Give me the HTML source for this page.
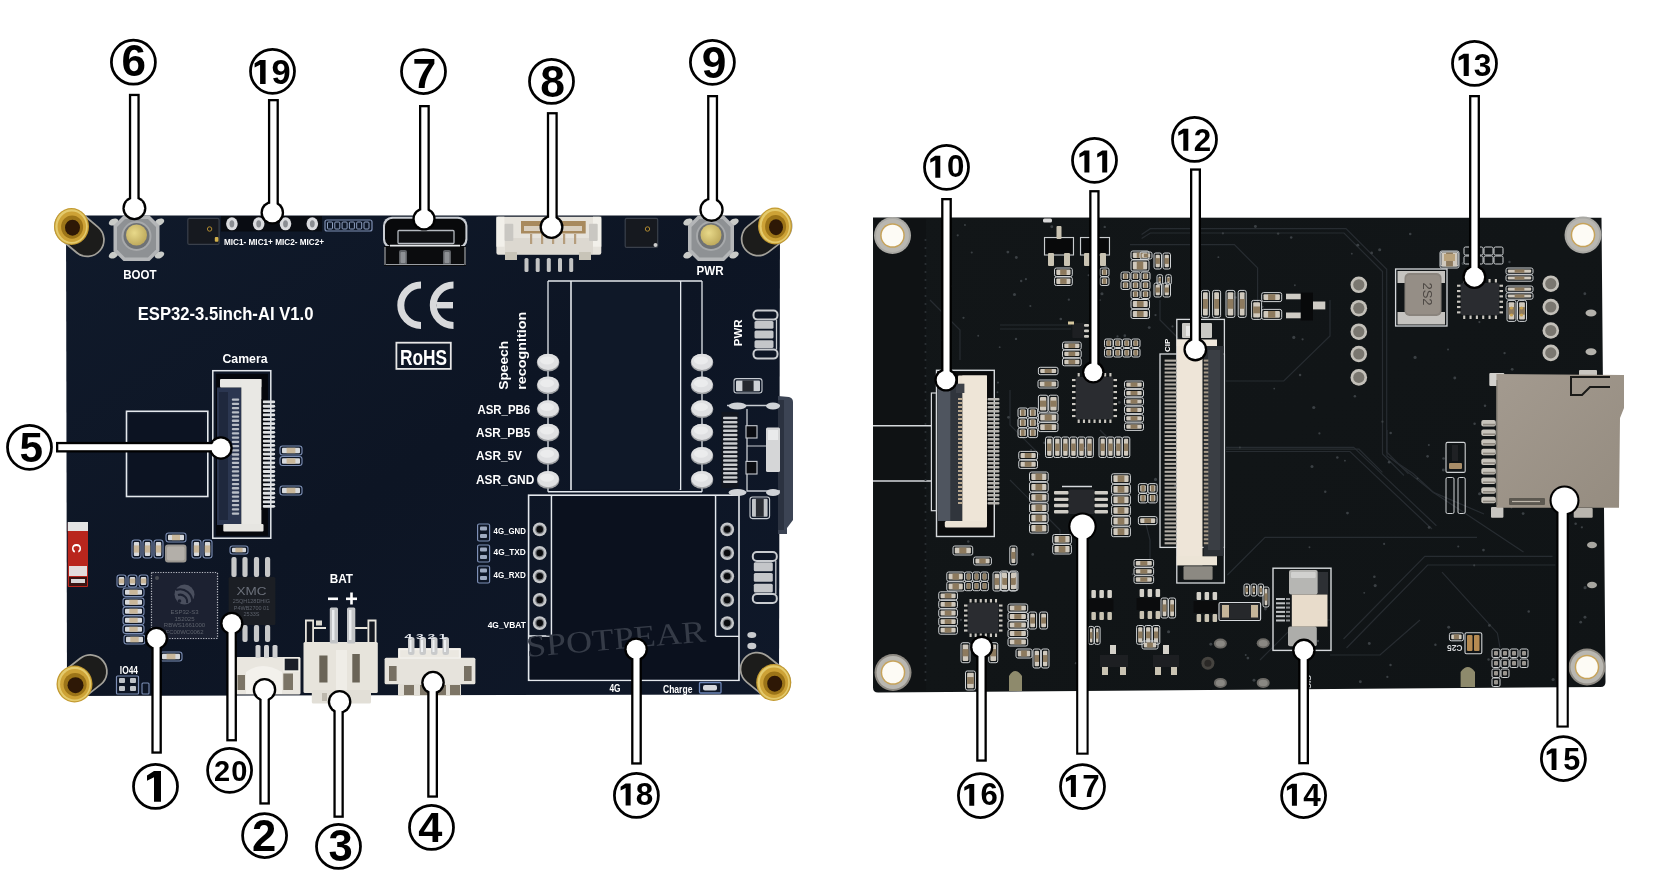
<!DOCTYPE html>
<html><head><meta charset="utf-8"><title>ESP32-3.5inch-AI</title>
<style>html,body{margin:0;padding:0;background:#fff;overflow:hidden}svg{display:block;will-change:transform}</style>
</head><body>
<svg width="1666" height="896" viewBox="0 0 1666 896">
<defs>
<linearGradient id="lbg" x1="0" y1="0" x2="1" y2="1">
<stop offset="0" stop-color="#101a2b"/><stop offset="0.5" stop-color="#0d1524"/><stop offset="1" stop-color="#0f1829"/>
</linearGradient>
<linearGradient id="rbg" x1="0" y1="0" x2="1" y2="1">
<stop offset="0" stop-color="#121618"/><stop offset="1" stop-color="#101416"/>
</linearGradient>
<radialGradient id="brass" cx="0.45" cy="0.45" r="0.6">
<stop offset="0" stop-color="#5a3a10"/><stop offset="0.45" stop-color="#8a6418"/><stop offset="0.7" stop-color="#d9b64a"/><stop offset="1" stop-color="#b08a2a"/>
</radialGradient>
<linearGradient id="cyl" x1="0" y1="0" x2="1" y2="0">
<stop offset="0" stop-color="#2a2a28"/><stop offset="0.5" stop-color="#151514"/><stop offset="1" stop-color="#3a3834"/>
</linearGradient>
<radialGradient id="btncap" cx="0.4" cy="0.4" r="0.7">
<stop offset="0" stop-color="#e8d98a"/><stop offset="1" stop-color="#b9a457"/>
</radialGradient>
<linearGradient id="sdg" x1="0" y1="0" x2="1" y2="1">
<stop offset="0" stop-color="#a39a8f"/><stop offset="1" stop-color="#958c80"/>
</linearGradient>
</defs>
<rect width="1666" height="896" fill="#fff"/>
<polygon points="66,215.5 780,215.5 779,694.5 67,696" fill="url(#lbg)"/>
<path d="M778,396 L789,397 Q793,398 793,402 L793,520 L787,528 L787,534 L778,534 Z" fill="#3c4454"/>
<rect x="778" y="400" width="6" height="130" fill="#2b3240"/>
<rect x="126.5" y="411.3" width="81.3" height="85.2" fill="none" stroke="#e4e8ed" stroke-width="1.6"/>
<rect x="129" y="414" width="76" height="80" fill="#0c1322"/>
<line x1="548" y1="281" x2="702" y2="281" stroke="#e4e8ed" stroke-width="1.6"/>
<line x1="548" y1="281" x2="548" y2="491.7" stroke="#e4e8ed" stroke-width="1.3"/>
<line x1="702" y1="281" x2="702" y2="491.7" stroke="#e4e8ed" stroke-width="1.3"/>
<line x1="571" y1="281" x2="571" y2="490" stroke="#e4e8ed" stroke-width="1.6"/>
<line x1="680.5" y1="281" x2="680.5" y2="490" stroke="#e4e8ed" stroke-width="1.6"/>
<line x1="548" y1="491.7" x2="702" y2="491.7" stroke="#e4e8ed" stroke-width="1.6"/>
<rect x="572" y="282" width="108" height="207" fill="#0f1828"/>
<rect x="528.6" y="495.2" width="210.4" height="185.1" fill="none" stroke="#e4e8ed" stroke-width="1.6"/>
<line x1="551.5" y1="495.2" x2="551.5" y2="636" stroke="#e4e8ed" stroke-width="1.6"/>
<line x1="528.6" y1="636" x2="551.5" y2="636" stroke="#e4e8ed" stroke-width="1.6"/>
<line x1="715.5" y1="495.2" x2="715.5" y2="636" stroke="#e4e8ed" stroke-width="1.6"/>
<line x1="715.5" y1="636.5" x2="739" y2="636.5" stroke="#e4e8ed" stroke-width="1.6"/>
<rect x="552.5" y="496.5" width="162" height="182.5" fill="#0b111e"/>
<rect x="530" y="637" width="208" height="42.5" fill="#0b111e"/>
<line x1="71.5" y1="226.5" x2="87.31" y2="239.83" stroke="#a3a19a" stroke-width="35" stroke-linecap="round"/>
<line x1="71.5" y1="226.5" x2="87.31" y2="239.83" stroke="#1c1c1b" stroke-width="31.5" stroke-linecap="round"/>
<ellipse cx="71.5" cy="226.5" rx="17.5" ry="18.5" fill="#c39a30"/>
<ellipse cx="71.5" cy="226.5" rx="16.2" ry="17.2" fill="#e4ca6c"/>
<ellipse cx="71.8" cy="226.8" rx="14.2" ry="15.2" fill="#cda236"/>
<ellipse cx="72.1" cy="227.1" rx="11" ry="11.7" fill="#9c7418"/>
<ellipse cx="72.5" cy="227.7" rx="7.5" ry="8" fill="#2e1806"/>
<line x1="775" y1="226" x2="758.26" y2="239.02" stroke="#a3a19a" stroke-width="35" stroke-linecap="round"/>
<line x1="775" y1="226" x2="758.26" y2="239.02" stroke="#1c1c1b" stroke-width="31.5" stroke-linecap="round"/>
<ellipse cx="775" cy="226" rx="17" ry="18.5" fill="#c39a30"/>
<ellipse cx="775" cy="226" rx="15.7" ry="17.2" fill="#e4ca6c"/>
<ellipse cx="775.3" cy="226.3" rx="13.7" ry="15.2" fill="#cda236"/>
<ellipse cx="775.6" cy="226.6" rx="10.5" ry="11.7" fill="#9c7418"/>
<ellipse cx="776" cy="227.2" rx="7" ry="8" fill="#2e1806"/>
<line x1="74.5" y1="684" x2="90.31" y2="671.6" stroke="#a3a19a" stroke-width="35" stroke-linecap="round"/>
<line x1="74.5" y1="684" x2="90.31" y2="671.6" stroke="#1c1c1b" stroke-width="31.5" stroke-linecap="round"/>
<ellipse cx="74.5" cy="684" rx="18" ry="18.5" fill="#c39a30"/>
<ellipse cx="74.5" cy="684" rx="16.7" ry="17.2" fill="#e4ca6c"/>
<ellipse cx="74.8" cy="684.3" rx="14.7" ry="15.2" fill="#cda236"/>
<ellipse cx="75.1" cy="684.6" rx="11.5" ry="11.7" fill="#9c7418"/>
<ellipse cx="75.5" cy="685.2" rx="8" ry="8" fill="#2e1806"/>
<line x1="773.7" y1="682.5" x2="757.15" y2="669.17" stroke="#a3a19a" stroke-width="35" stroke-linecap="round"/>
<line x1="773.7" y1="682.5" x2="757.15" y2="669.17" stroke="#1c1c1b" stroke-width="31.5" stroke-linecap="round"/>
<ellipse cx="773.7" cy="682.5" rx="17.5" ry="18.5" fill="#c39a30"/>
<ellipse cx="773.7" cy="682.5" rx="16.2" ry="17.2" fill="#e4ca6c"/>
<ellipse cx="774" cy="682.8" rx="14.2" ry="15.2" fill="#cda236"/>
<ellipse cx="774.3" cy="683.1" rx="11" ry="11.7" fill="#9c7418"/>
<ellipse cx="774.7" cy="683.7" rx="7.5" ry="8" fill="#2e1806"/>
<ellipse cx="113.5" cy="222" rx="5" ry="3.2" fill="#c9cbc8" transform="rotate(-25 113.5 222)"/>
<ellipse cx="159.5" cy="222" rx="5" ry="3.2" fill="#c9cbc8" transform="rotate(-25 159.5 222)"/>
<ellipse cx="113.5" cy="255" rx="5" ry="3.2" fill="#c9cbc8" transform="rotate(-25 113.5 255)"/>
<ellipse cx="159.5" cy="255" rx="5" ry="3.2" fill="#c9cbc8" transform="rotate(-25 159.5 255)"/>
<polygon points="123.5,215.5 149.5,215.5 159.5,225.5 159.5,251 149.5,261 123.5,261 113.5,251 113.5,225.5" fill="#b4b6b8"/>
<polygon points="125,219 148,219 156,227 156,249.5 148,257.5 125,257.5 117,249.5 117,227" fill="#8e9194"/>
<circle cx="136.5" cy="236" r="15" fill="#a7a9ab"/>
<circle cx="136.5" cy="236" r="13" fill="#6f7275"/>
<circle cx="136.5" cy="235" r="10.5" fill="url(#btncap)"/>
<ellipse cx="688" cy="222" rx="5" ry="3.2" fill="#c9cbc8" transform="rotate(-25 688 222)"/>
<ellipse cx="734" cy="222" rx="5" ry="3.2" fill="#c9cbc8" transform="rotate(-25 734 222)"/>
<ellipse cx="688" cy="255" rx="5" ry="3.2" fill="#c9cbc8" transform="rotate(-25 688 255)"/>
<ellipse cx="734" cy="255" rx="5" ry="3.2" fill="#c9cbc8" transform="rotate(-25 734 255)"/>
<polygon points="698,215.5 724,215.5 734,225.5 734,251 724,261 698,261 688,251 688,225.5" fill="#b4b6b8"/>
<polygon points="699.5,219 722.5,219 730.5,227 730.5,249.5 722.5,257.5 699.5,257.5 691.5,249.5 691.5,227" fill="#8e9194"/>
<circle cx="711" cy="236" r="15" fill="#a7a9ab"/>
<circle cx="711" cy="236" r="13" fill="#6f7275"/>
<circle cx="711" cy="235" r="10.5" fill="url(#btncap)"/>
<text x="123.2" y="278.6" font-family="Liberation Sans" font-weight="bold" font-size="13.2" fill="#fff" text-anchor="start" textLength="33.3" lengthAdjust="spacingAndGlyphs">BOOT</text>
<text x="696.6" y="275.4" font-family="Liberation Sans" font-weight="bold" font-size="12.6" fill="#fff" text-anchor="start" textLength="27" lengthAdjust="spacingAndGlyphs">PWR</text>
<rect x="187.8" y="218.4" width="31.3" height="26" fill="#16191f" stroke="#3a404b" stroke-width="1.2" rx="1.5"/>
<rect x="214.8" y="237" width="3.6" height="4.8" fill="#d2b04a" rx="1"/>
<circle cx="209.6" cy="229" r="2.2" fill="none" stroke="#b08a30" stroke-width="1"/>
<rect x="625.2" y="218.4" width="32.5" height="29" fill="#16191f" stroke="#3a404b" stroke-width="1.2" rx="1.5"/>
<circle cx="647.5" cy="229" r="2.2" fill="none" stroke="#b08a30" stroke-width="1"/>
<circle cx="655.5" cy="245" r="2" fill="#ccc"/>
<rect x="221" y="216" width="101" height="15.5" fill="#090c12"/>
<ellipse cx="231.9" cy="223.8" rx="5.8" ry="6.5" fill="#dadbde"/>
<ellipse cx="231.9" cy="223.8" rx="2.4" ry="3.6" fill="#8a8d92"/>
<ellipse cx="258.7" cy="223.8" rx="5.8" ry="6.5" fill="#dadbde"/>
<ellipse cx="258.7" cy="223.8" rx="2.4" ry="3.6" fill="#8a8d92"/>
<ellipse cx="285.5" cy="223.8" rx="5.8" ry="6.5" fill="#dadbde"/>
<ellipse cx="285.5" cy="223.8" rx="2.4" ry="3.6" fill="#8a8d92"/>
<ellipse cx="312.3" cy="223.8" rx="5.8" ry="6.5" fill="#dadbde"/>
<ellipse cx="312.3" cy="223.8" rx="2.4" ry="3.6" fill="#8a8d92"/>
<text x="224" y="245.3" font-family="Liberation Sans" font-weight="bold" font-size="9.6" fill="#fff" text-anchor="start" textLength="100" lengthAdjust="spacingAndGlyphs">MIC1- MIC1+ MIC2- MIC2+</text>
<rect x="325" y="220" width="47" height="11" fill="none" stroke="#7f90b4" stroke-width="1.2" rx="2"/>
<rect x="327.5" y="222" width="5" height="7" fill="none" stroke="#8fa0c0" stroke-width="1" rx="1"/>
<rect x="334.8" y="222" width="5" height="7" fill="none" stroke="#8fa0c0" stroke-width="1" rx="1"/>
<rect x="342.1" y="222" width="5" height="7" fill="none" stroke="#8fa0c0" stroke-width="1" rx="1"/>
<rect x="349.4" y="222" width="5" height="7" fill="none" stroke="#8fa0c0" stroke-width="1" rx="1"/>
<rect x="356.7" y="222" width="5" height="7" fill="none" stroke="#8fa0c0" stroke-width="1" rx="1"/>
<rect x="364" y="222" width="5" height="7" fill="none" stroke="#8fa0c0" stroke-width="1" rx="1"/>
<rect x="383" y="216.7" width="84.4" height="32" fill="#c9cdd3" rx="9"/>
<rect x="385" y="218.7" width="80.4" height="28" fill="#08090b" rx="8"/>
<rect x="398" y="230.5" width="56" height="13" fill="#0e0f12" stroke="#b5b9bf" stroke-width="1.3" rx="1"/>
<rect x="384" y="246" width="82" height="20" fill="#0b0c0e"/>
<line x1="385" y1="247" x2="385" y2="265" stroke="#9fa3a8" stroke-width="1.2"/>
<line x1="465" y1="247" x2="465" y2="265" stroke="#9fa3a8" stroke-width="1.2"/>
<rect x="399" y="250" width="8" height="15" fill="#5e6165" rx="2"/>
<rect x="400.5" y="252" width="5" height="11" fill="#8d9094" rx="1"/>
<rect x="443" y="250" width="8" height="15" fill="#5e6165" rx="2"/>
<rect x="444.5" y="252" width="5" height="11" fill="#8d9094" rx="1"/>
<line x1="386" y1="264.5" x2="464" y2="264.5" stroke="#9a9ea3" stroke-width="1.2"/>
<line x1="390" y1="245.6" x2="460" y2="245.6" stroke="#e8eaec" stroke-width="1.6"/>
<rect x="496.4" y="216.7" width="104.9" height="38" fill="#e6e3dc" rx="2"/>
<rect x="496.4" y="216.7" width="8" height="30" fill="#f2f0ea"/>
<rect x="593" y="216.7" width="8.3" height="30" fill="#f2f0ea"/>
<rect x="521" y="221" width="64.7" height="12.5" fill="#a88a5e"/>
<rect x="524" y="226" width="58" height="5" fill="#d9cfbf"/>
<rect x="505" y="238" width="88" height="16" fill="#dcd8d0"/>
<rect x="524.5" y="258" width="4" height="14" fill="#c3c4c4" rx="1.5"/>
<rect x="535.7" y="258" width="4" height="14" fill="#c3c4c4" rx="1.5"/>
<rect x="546.8" y="258" width="4" height="14" fill="#c3c4c4" rx="1.5"/>
<rect x="558" y="258" width="4" height="14" fill="#c3c4c4" rx="1.5"/>
<rect x="569.2" y="258" width="4" height="14" fill="#c3c4c4" rx="1.5"/>
<rect x="505" y="252" width="12" height="8" fill="#c8c4b8"/>
<rect x="579" y="252" width="12" height="8" fill="#c8c4b8"/>
<rect x="504.6" y="223.7" width="8.7" height="17.3" fill="#c9c7c2" rx="1"/>
<rect x="589" y="223.7" width="8.7" height="17.3" fill="#c9c7c2" rx="1"/>
<rect x="530" y="234" width="2.2" height="10" fill="#b59d7c"/>
<rect x="541" y="234" width="2.2" height="10" fill="#b59d7c"/>
<rect x="552" y="234" width="2.2" height="10" fill="#b59d7c"/>
<rect x="563" y="234" width="2.2" height="10" fill="#b59d7c"/>
<rect x="574" y="234" width="2.2" height="10" fill="#b59d7c"/>
<text x="137.7" y="320.1" font-family="Liberation Sans" font-weight="bold" font-size="18.6" fill="#fff" text-anchor="start" textLength="175.7" lengthAdjust="spacingAndGlyphs">ESP32-3.5inch-AI V1.0</text>
<path d="M421,285 A20.2,20.2 0 0 0 421,325.4" fill="none" stroke="#d8d9db" stroke-width="7"/>
<path d="M453.5,285 A20.2,20.2 0 0 0 453.5,325.4" fill="none" stroke="#d8d9db" stroke-width="7"/>
<rect x="437" y="302" width="16" height="6.4" fill="#d8d9db"/>
<rect x="396.4" y="342.7" width="54.4" height="26.2" fill="none" stroke="#e6e6e6" stroke-width="1.8"/>
<text x="400" y="365" font-family="Liberation Sans" font-weight="bold" font-size="22" fill="#fff" text-anchor="start" textLength="47" lengthAdjust="spacingAndGlyphs">RoHS</text>
<text x="222.5" y="363.4" font-family="Liberation Sans" font-weight="bold" font-size="13.1" fill="#fff" text-anchor="start" textLength="45" lengthAdjust="spacingAndGlyphs">Camera</text>
<rect x="212.8" y="370.7" width="58" height="167.5" fill="none" stroke="#e4e8ed" stroke-width="1.5"/>
<rect x="215.9" y="373.8" width="52" height="162" fill="#05070c"/>
<rect x="217" y="387.5" width="24.3" height="137.5" fill="#2b3650"/>
<rect x="219" y="392" width="9" height="128" fill="#1f283d"/>
<rect x="220" y="379" width="41.4" height="8.5" fill="#e8e7e3" rx="1"/>
<rect x="241.3" y="379" width="20.1" height="152" fill="#e9e8e4"/>
<rect x="223.3" y="524" width="40.2" height="7.6" fill="#e6e5e1" rx="1"/>
<rect x="231.8" y="398.5" width="7.4" height="2.3" fill="#b9bec6" rx="1"/>
<rect x="231.8" y="402.72" width="7.4" height="2.3" fill="#b9bec6" rx="1"/>
<rect x="231.8" y="406.94" width="7.4" height="2.3" fill="#b9bec6" rx="1"/>
<rect x="231.8" y="411.16" width="7.4" height="2.3" fill="#b9bec6" rx="1"/>
<rect x="231.8" y="415.38" width="7.4" height="2.3" fill="#b9bec6" rx="1"/>
<rect x="231.8" y="419.6" width="7.4" height="2.3" fill="#b9bec6" rx="1"/>
<rect x="231.8" y="423.82" width="7.4" height="2.3" fill="#b9bec6" rx="1"/>
<rect x="231.8" y="428.04" width="7.4" height="2.3" fill="#b9bec6" rx="1"/>
<rect x="231.8" y="432.26" width="7.4" height="2.3" fill="#b9bec6" rx="1"/>
<rect x="231.8" y="436.48" width="7.4" height="2.3" fill="#b9bec6" rx="1"/>
<rect x="231.8" y="440.7" width="7.4" height="2.3" fill="#b9bec6" rx="1"/>
<rect x="231.8" y="444.92" width="7.4" height="2.3" fill="#b9bec6" rx="1"/>
<rect x="231.8" y="449.14" width="7.4" height="2.3" fill="#b9bec6" rx="1"/>
<rect x="231.8" y="453.36" width="7.4" height="2.3" fill="#b9bec6" rx="1"/>
<rect x="231.8" y="457.58" width="7.4" height="2.3" fill="#b9bec6" rx="1"/>
<rect x="231.8" y="461.8" width="7.4" height="2.3" fill="#b9bec6" rx="1"/>
<rect x="231.8" y="466.02" width="7.4" height="2.3" fill="#b9bec6" rx="1"/>
<rect x="231.8" y="470.24" width="7.4" height="2.3" fill="#b9bec6" rx="1"/>
<rect x="231.8" y="474.46" width="7.4" height="2.3" fill="#b9bec6" rx="1"/>
<rect x="231.8" y="478.68" width="7.4" height="2.3" fill="#b9bec6" rx="1"/>
<rect x="231.8" y="482.9" width="7.4" height="2.3" fill="#b9bec6" rx="1"/>
<rect x="231.8" y="487.12" width="7.4" height="2.3" fill="#b9bec6" rx="1"/>
<rect x="231.8" y="491.34" width="7.4" height="2.3" fill="#b9bec6" rx="1"/>
<rect x="231.8" y="495.56" width="7.4" height="2.3" fill="#b9bec6" rx="1"/>
<rect x="231.8" y="499.78" width="7.4" height="2.3" fill="#b9bec6" rx="1"/>
<rect x="231.8" y="504" width="7.4" height="2.3" fill="#b9bec6" rx="1"/>
<rect x="231.8" y="508.22" width="7.4" height="2.3" fill="#b9bec6" rx="1"/>
<rect x="231.8" y="512.44" width="7.4" height="2.3" fill="#b9bec6" rx="1"/>
<rect x="262.5" y="400.5" width="12.7" height="2.8" fill="#dfe1e3" rx="1.4"/>
<rect x="262.5" y="404.85" width="12.7" height="2.8" fill="#dfe1e3" rx="1.4"/>
<rect x="262.5" y="409.2" width="12.7" height="2.8" fill="#dfe1e3" rx="1.4"/>
<rect x="262.5" y="413.55" width="12.7" height="2.8" fill="#dfe1e3" rx="1.4"/>
<rect x="262.5" y="417.9" width="12.7" height="2.8" fill="#dfe1e3" rx="1.4"/>
<rect x="262.5" y="422.25" width="12.7" height="2.8" fill="#dfe1e3" rx="1.4"/>
<rect x="262.5" y="426.6" width="12.7" height="2.8" fill="#dfe1e3" rx="1.4"/>
<rect x="262.5" y="430.95" width="12.7" height="2.8" fill="#dfe1e3" rx="1.4"/>
<rect x="262.5" y="435.3" width="12.7" height="2.8" fill="#dfe1e3" rx="1.4"/>
<rect x="262.5" y="439.65" width="12.7" height="2.8" fill="#dfe1e3" rx="1.4"/>
<rect x="262.5" y="444" width="12.7" height="2.8" fill="#dfe1e3" rx="1.4"/>
<rect x="262.5" y="448.35" width="12.7" height="2.8" fill="#dfe1e3" rx="1.4"/>
<rect x="262.5" y="452.7" width="12.7" height="2.8" fill="#dfe1e3" rx="1.4"/>
<rect x="262.5" y="457.05" width="12.7" height="2.8" fill="#dfe1e3" rx="1.4"/>
<rect x="262.5" y="461.4" width="12.7" height="2.8" fill="#dfe1e3" rx="1.4"/>
<rect x="262.5" y="465.75" width="12.7" height="2.8" fill="#dfe1e3" rx="1.4"/>
<rect x="262.5" y="470.1" width="12.7" height="2.8" fill="#dfe1e3" rx="1.4"/>
<rect x="262.5" y="474.45" width="12.7" height="2.8" fill="#dfe1e3" rx="1.4"/>
<rect x="262.5" y="478.8" width="12.7" height="2.8" fill="#dfe1e3" rx="1.4"/>
<rect x="262.5" y="483.15" width="12.7" height="2.8" fill="#dfe1e3" rx="1.4"/>
<rect x="262.5" y="487.5" width="12.7" height="2.8" fill="#dfe1e3" rx="1.4"/>
<rect x="262.5" y="491.85" width="12.7" height="2.8" fill="#dfe1e3" rx="1.4"/>
<rect x="262.5" y="496.2" width="12.7" height="2.8" fill="#dfe1e3" rx="1.4"/>
<rect x="262.5" y="500.55" width="12.7" height="2.8" fill="#dfe1e3" rx="1.4"/>
<rect x="262.5" y="504.9" width="12.7" height="2.8" fill="#dfe1e3" rx="1.4"/>
<rect x="261.6" y="399" width="1.2" height="111" fill="#05070c"/>
<rect x="280" y="446" width="22" height="9" fill="none" stroke="#7d8fb5" stroke-width="1.1" rx="2.5"/>
<rect x="282" y="447.8" width="18" height="5.4" fill="#d7d9dc" rx="1"/>
<rect x="286.6" y="447.8" width="8.8" height="5.4" fill="#c9b79a"/>
<rect x="280" y="456.5" width="22" height="9" fill="none" stroke="#7d8fb5" stroke-width="1.1" rx="2.5"/>
<rect x="282" y="458.3" width="18" height="5.4" fill="#d7d9dc" rx="1"/>
<rect x="286.6" y="458.3" width="8.8" height="5.4" fill="#c9b79a"/>
<rect x="280" y="486" width="22" height="9" fill="none" stroke="#7d8fb5" stroke-width="1.1" rx="2.5"/>
<rect x="282" y="487.8" width="18" height="5.4" fill="#d7d9dc" rx="1"/>
<rect x="286.6" y="487.8" width="8.8" height="5.4" fill="#c9b79a"/>
<rect x="67.8" y="522" width="20.2" height="65" fill="#b9261d" rx="1"/>
<rect x="67.8" y="522" width="20.2" height="9" fill="#e4e4e4"/>
<text x="71.5" y="556" font-family="Liberation Sans" font-weight="bold" font-size="13" fill="#fff" text-anchor="start" transform="rotate(90 78 550)">C</text>
<rect x="69" y="566" width="18" height="10" fill="#e3dcdc"/>
<rect x="69" y="577" width="18" height="9" fill="#3a1412"/>
<rect x="71" y="579" width="14" height="4" fill="#d8d8d8"/>
<rect x="132" y="540" width="9" height="18" fill="none" stroke="#7d8fb5" stroke-width="1.1" rx="2.5"/>
<rect x="133.8" y="542" width="5.4" height="14" fill="#d7d9dc" rx="1"/>
<rect x="133.8" y="545.4" width="5.4" height="7.2" fill="#c9b79a"/>
<rect x="143" y="540" width="9" height="18" fill="none" stroke="#7d8fb5" stroke-width="1.1" rx="2.5"/>
<rect x="144.8" y="542" width="5.4" height="14" fill="#d7d9dc" rx="1"/>
<rect x="144.8" y="545.4" width="5.4" height="7.2" fill="#c9b79a"/>
<rect x="154" y="540" width="9" height="18" fill="none" stroke="#7d8fb5" stroke-width="1.1" rx="2.5"/>
<rect x="155.8" y="542" width="5.4" height="14" fill="#d7d9dc" rx="1"/>
<rect x="155.8" y="545.4" width="5.4" height="7.2" fill="#c9b79a"/>
<rect x="192" y="540" width="9" height="18" fill="none" stroke="#7d8fb5" stroke-width="1.1" rx="2.5"/>
<rect x="193.8" y="542" width="5.4" height="14" fill="#d7d9dc" rx="1"/>
<rect x="193.8" y="545.4" width="5.4" height="7.2" fill="#c9b79a"/>
<rect x="203" y="540" width="9" height="18" fill="none" stroke="#7d8fb5" stroke-width="1.1" rx="2.5"/>
<rect x="204.8" y="542" width="5.4" height="14" fill="#d7d9dc" rx="1"/>
<rect x="204.8" y="545.4" width="5.4" height="7.2" fill="#c9b79a"/>
<rect x="166" y="533" width="20" height="9" fill="none" stroke="#7d8fb5" stroke-width="1.1" rx="2.5"/>
<rect x="168" y="534.8" width="16" height="5.4" fill="#d7d9dc" rx="1"/>
<rect x="172" y="534.8" width="8" height="5.4" fill="#c9b79a"/>
<rect x="165" y="544.6" width="21.5" height="17.8" fill="#9c9892" rx="3"/>
<rect x="167" y="546.5" width="17.5" height="14" fill="#b3afa9" rx="2"/>
<rect x="123" y="588" width="21" height="8.5" fill="none" stroke="#7d8fb5" stroke-width="1.1" rx="2.5"/>
<rect x="125" y="589.8" width="17" height="4.9" fill="#d7d9dc" rx="1"/>
<rect x="129.3" y="589.8" width="8.4" height="4.9" fill="#c9b79a"/>
<rect x="123" y="598" width="21" height="8.5" fill="none" stroke="#7d8fb5" stroke-width="1.1" rx="2.5"/>
<rect x="125" y="599.8" width="17" height="4.9" fill="#d7d9dc" rx="1"/>
<rect x="129.3" y="599.8" width="8.4" height="4.9" fill="#c9b79a"/>
<rect x="123" y="607" width="21" height="8.5" fill="none" stroke="#7d8fb5" stroke-width="1.1" rx="2.5"/>
<rect x="125" y="608.8" width="17" height="4.9" fill="#d7d9dc" rx="1"/>
<rect x="129.3" y="608.8" width="8.4" height="4.9" fill="#c9b79a"/>
<rect x="123" y="616" width="21" height="8.5" fill="none" stroke="#7d8fb5" stroke-width="1.1" rx="2.5"/>
<rect x="125" y="617.8" width="17" height="4.9" fill="#d7d9dc" rx="1"/>
<rect x="129.3" y="617.8" width="8.4" height="4.9" fill="#c9b79a"/>
<rect x="123" y="625" width="21" height="8.5" fill="none" stroke="#7d8fb5" stroke-width="1.1" rx="2.5"/>
<rect x="125" y="626.8" width="17" height="4.9" fill="#d7d9dc" rx="1"/>
<rect x="129.3" y="626.8" width="8.4" height="4.9" fill="#c9b79a"/>
<rect x="117" y="575" width="9" height="12" fill="none" stroke="#7d8fb5" stroke-width="1.1" rx="2.5"/>
<rect x="118.8" y="577" width="5.4" height="8" fill="#d7d9dc" rx="1"/>
<rect x="118.8" y="578.6" width="5.4" height="4.8" fill="#c9b79a"/>
<rect x="128" y="575" width="9" height="12" fill="none" stroke="#7d8fb5" stroke-width="1.1" rx="2.5"/>
<rect x="129.8" y="577" width="5.4" height="8" fill="#d7d9dc" rx="1"/>
<rect x="129.8" y="578.6" width="5.4" height="4.8" fill="#c9b79a"/>
<rect x="139" y="575" width="9" height="12" fill="none" stroke="#7d8fb5" stroke-width="1.1" rx="2.5"/>
<rect x="140.8" y="577" width="5.4" height="8" fill="#d7d9dc" rx="1"/>
<rect x="140.8" y="578.6" width="5.4" height="4.8" fill="#c9b79a"/>
<rect x="124" y="635" width="21" height="9" fill="none" stroke="#7d8fb5" stroke-width="1.1" rx="2.5"/>
<rect x="126" y="636.8" width="17" height="5.4" fill="#d7d9dc" rx="1"/>
<rect x="130.3" y="636.8" width="8.4" height="5.4" fill="#c9b79a"/>
<rect x="160" y="652" width="22" height="9" fill="none" stroke="#7d8fb5" stroke-width="1.1" rx="2.5"/>
<rect x="162" y="653.8" width="18" height="5.4" fill="#d7d9dc" rx="1"/>
<rect x="166.6" y="653.8" width="8.8" height="5.4" fill="#c9b79a"/>
<rect x="230" y="546" width="18" height="8" fill="none" stroke="#7d8fb5" stroke-width="1.1" rx="2.5"/>
<rect x="232" y="547.8" width="14" height="4.4" fill="#d7d9dc" rx="1"/>
<rect x="235.4" y="547.8" width="7.2" height="4.4" fill="#c9b79a"/>
<rect x="150.4" y="571.4" width="68.1" height="68" fill="#1c2131" rx="2"/>
<rect x="151.5" y="572.5" width="66" height="66" fill="none" stroke="#b9bdc4" stroke-width="1.2" rx="1" stroke-dasharray="1.2 1.4"/>
<circle cx="157" cy="578" r="2" fill="#4a4d54"/>
<circle cx="184.5" cy="594.5" r="10" fill="#4a4f5e"/>
<path d="M176,590 a12,12 0 0 1 16,13" fill="none" stroke="#1c2131" stroke-width="2"/>
<path d="M178,595 a7,7 0 0 1 9,8" fill="none" stroke="#1c2131" stroke-width="2"/>
<circle cx="179.5" cy="601" r="1.8" fill="#1c2131"/>
<text x="184.5" y="614" font-family="Liberation Sans" font-weight="normal" font-size="6" fill="#5d626c" text-anchor="middle">ESP32-S3</text>
<text x="184.5" y="620.6" font-family="Liberation Sans" font-weight="normal" font-size="6" fill="#5d626c" text-anchor="middle">152025</text>
<text x="184.5" y="627.2" font-family="Liberation Sans" font-weight="normal" font-size="6" fill="#5d626c" text-anchor="middle">RBWS1661000</text>
<text x="184.5" y="633.8" font-family="Liberation Sans" font-weight="normal" font-size="6" fill="#5d626c" text-anchor="middle">FC00WC0062</text>
<rect x="231.4" y="557" width="5.2" height="20" fill="#c7c8c9" rx="2"/>
<rect x="231.4" y="625" width="5.2" height="17" fill="#c7c8c9" rx="2"/>
<rect x="242.4" y="557" width="5.2" height="20" fill="#c7c8c9" rx="2"/>
<rect x="242.4" y="625" width="5.2" height="17" fill="#c7c8c9" rx="2"/>
<rect x="253.9" y="557" width="5.2" height="20" fill="#c7c8c9" rx="2"/>
<rect x="253.9" y="625" width="5.2" height="17" fill="#c7c8c9" rx="2"/>
<rect x="265" y="557" width="5.2" height="20" fill="#c7c8c9" rx="2"/>
<rect x="265" y="625" width="5.2" height="17" fill="#c7c8c9" rx="2"/>
<rect x="228.6" y="577" width="46.8" height="48" fill="#1b1e24" rx="1.5"/>
<text x="251.5" y="595" font-family="Liberation Sans" font-weight="normal" font-size="11" fill="#6b707a" text-anchor="middle" textLength="30" lengthAdjust="spacingAndGlyphs">XMC</text>
<text x="251.5" y="603" font-family="Liberation Sans" font-weight="normal" font-size="5.5" fill="#5d626c" text-anchor="middle">25QH128DHIG</text>
<text x="251.5" y="609.5" font-family="Liberation Sans" font-weight="normal" font-size="5.5" fill="#5d626c" text-anchor="middle">P4WB2700 01</text>
<text x="251.5" y="616" font-family="Liberation Sans" font-weight="normal" font-size="5.5" fill="#5d626c" text-anchor="middle">2533S</text>
<text x="119.8" y="673.5" font-family="Liberation Sans" font-weight="bold" font-size="10" fill="#fff" text-anchor="start" textLength="18.2" lengthAdjust="spacingAndGlyphs">IO44</text>
<rect x="116.5" y="676" width="22" height="18" fill="none" stroke="#7d8fb5" stroke-width="1.2" rx="1"/>
<rect x="119" y="678" width="6" height="5" fill="#bfc3c8" rx="1"/>
<rect x="130" y="678" width="6" height="5" fill="#bfc3c8" rx="1"/>
<rect x="119" y="686" width="6" height="5" fill="#bfc3c8" rx="1"/>
<rect x="130" y="686" width="6" height="5" fill="#bfc3c8" rx="1"/>
<rect x="142" y="683" width="7" height="11" fill="none" stroke="#7d8fb5" stroke-width="1.1" rx="1"/>
<rect x="236" y="657" width="64.5" height="37.5" fill="#e9e6df" rx="1.5"/>
<path d="M246,672 Q262,660 282,672 L282,694 L246,694 Z" fill="#f3f1ec"/>
<rect x="237.5" y="675" width="7.5" height="15" fill="#7b7466"/>
<rect x="283.3" y="673.5" width="9.7" height="16.5" fill="#7b7466"/>
<rect x="284" y="658" width="15" height="13" fill="#1a1e27" stroke="#f1efe9" stroke-width="1.4"/>
<rect x="255.5" y="645" width="5" height="13" fill="#cfd0d1" rx="1.5"/>
<rect x="264" y="645" width="5" height="13" fill="#cfd0d1" rx="1.5"/>
<rect x="272.5" y="645" width="5" height="13" fill="#cfd0d1" rx="1.5"/>
<rect x="305" y="619.5" width="9" height="24" fill="#e7e4dc"/>
<rect x="306.8" y="621.5" width="5.4" height="22" fill="#141821"/>
<rect x="367.5" y="619.5" width="9" height="24" fill="#e7e4dc"/>
<rect x="369.3" y="621.5" width="5.4" height="22" fill="#141821"/>
<rect x="314" y="627" width="12" height="2" fill="#e7e4dc"/>
<rect x="355" y="627" width="12.5" height="2" fill="#e7e4dc"/>
<rect x="316" y="620.5" width="6" height="5" fill="#d9d6ce"/>
<rect x="303.5" y="642" width="74.3" height="51" fill="#e7e4dc" rx="1.5"/>
<rect x="311.8" y="690" width="59.2" height="13.5" fill="#e2dfd7" rx="1.5"/>
<rect x="319.3" y="655.5" width="8.2" height="27" fill="#6a6457"/>
<rect x="352.3" y="654" width="7.5" height="28.5" fill="#6a6457"/>
<rect x="336" y="650" width="11" height="40" fill="#efede7"/>
<rect x="322" y="693" width="5" height="8" fill="#bdb8ad"/>
<rect x="329.8" y="607.5" width="8.2" height="36" fill="#c3c5c7" rx="1.5"/>
<rect x="347" y="607.5" width="8.3" height="36" fill="#c3c5c7" rx="1.5"/>
<rect x="332" y="610" width="2.5" height="30" fill="#eceef0"/>
<rect x="349" y="610" width="2.5" height="30" fill="#eceef0"/>
<text x="329.7" y="583.2" font-family="Liberation Sans" font-weight="bold" font-size="13" fill="#fff" text-anchor="start" textLength="23.3" lengthAdjust="spacingAndGlyphs">BAT</text>
<rect x="328" y="597.5" width="10" height="2.6" fill="#fff"/>
<rect x="346" y="597.5" width="11" height="2.6" fill="#fff"/>
<rect x="350.2" y="592.5" width="2.6" height="12" fill="#fff"/>
<rect x="384.6" y="657.7" width="90.8" height="26.5" fill="#e6e3dc" rx="1.5"/>
<rect x="398" y="648" width="63" height="11" fill="#ebe8e1" rx="1"/>
<rect x="399.5" y="649.5" width="60" height="8.5" fill="none" stroke="#f4f2ee" stroke-width="1.2"/>
<rect x="389" y="666" width="7.6" height="15" fill="#777063"/>
<rect x="464" y="666" width="7.6" height="15" fill="#777063"/>
<rect x="398" y="684" width="63" height="12" fill="#e1ded6" rx="1"/>
<rect x="404" y="685" width="10" height="10" fill="#7d7566"/>
<rect x="420" y="685" width="10" height="10" fill="#7d7566"/>
<rect x="436" y="685" width="10" height="10" fill="#7d7566"/>
<rect x="450" y="685" width="10" height="10" fill="#7d7566"/>
<rect x="408" y="637" width="6.5" height="18" fill="#c9cacb" rx="2.5"/>
<rect x="409.5" y="640" width="2" height="12" fill="#eef0f2"/>
<rect x="419.5" y="637" width="6.5" height="18" fill="#c9cacb" rx="2.5"/>
<rect x="421" y="640" width="2" height="12" fill="#eef0f2"/>
<rect x="431" y="637" width="6.5" height="18" fill="#c9cacb" rx="2.5"/>
<rect x="432.5" y="640" width="2" height="12" fill="#eef0f2"/>
<rect x="442.5" y="637" width="6.5" height="18" fill="#c9cacb" rx="2.5"/>
<rect x="444" y="640" width="2" height="12" fill="#eef0f2"/>
<text x="404.5" y="638.5" font-family="Liberation Sans" font-weight="bold" font-size="6.5" fill="#e6e9ef" text-anchor="start" textLength="42" lengthAdjust="spacingAndGlyphs">4 3 2 1</text>
<text x="508" y="389.8" font-family="Liberation Sans" font-weight="bold" font-size="13" fill="#fff" text-anchor="start" transform="rotate(-90 508 389.8)" textLength="49" lengthAdjust="spacingAndGlyphs">Speech</text>
<text x="526.1" y="389.8" font-family="Liberation Sans" font-weight="bold" font-size="13" fill="#fff" text-anchor="start" transform="rotate(-90 526.1 389.8)" textLength="78" lengthAdjust="spacingAndGlyphs">recognition</text>
<text x="477.4" y="413.5" font-family="Liberation Sans" font-weight="bold" font-size="12" fill="#fff" text-anchor="start" textLength="52.8" lengthAdjust="spacingAndGlyphs">ASR_PB6</text>
<text x="476" y="436.9" font-family="Liberation Sans" font-weight="bold" font-size="12" fill="#fff" text-anchor="start" textLength="54.2" lengthAdjust="spacingAndGlyphs">ASR_PB5</text>
<text x="476" y="460.2" font-family="Liberation Sans" font-weight="bold" font-size="12" fill="#fff" text-anchor="start" textLength="46" lengthAdjust="spacingAndGlyphs">ASR_5V</text>
<text x="476" y="484.2" font-family="Liberation Sans" font-weight="bold" font-size="12" fill="#fff" text-anchor="start" textLength="58.3" lengthAdjust="spacingAndGlyphs">ASR_GND</text>
<ellipse cx="548.1" cy="362.6" rx="11.2" ry="8.9" fill="#9fa1a4"/>
<ellipse cx="548.1" cy="361.8" rx="10.7" ry="8.1" fill="#dfe0e2"/>
<ellipse cx="547.1" cy="360.4" rx="7" ry="4" fill="#ebeced"/>
<ellipse cx="702" cy="362.6" rx="11.2" ry="8.9" fill="#9fa1a4"/>
<ellipse cx="702" cy="361.8" rx="10.7" ry="8.1" fill="#dfe0e2"/>
<ellipse cx="701" cy="360.4" rx="7" ry="4" fill="#ebeced"/>
<ellipse cx="548.1" cy="385.4" rx="11.2" ry="8.9" fill="#9fa1a4"/>
<ellipse cx="548.1" cy="384.6" rx="10.7" ry="8.1" fill="#dfe0e2"/>
<ellipse cx="547.1" cy="383.2" rx="7" ry="4" fill="#ebeced"/>
<ellipse cx="702" cy="385.4" rx="11.2" ry="8.9" fill="#9fa1a4"/>
<ellipse cx="702" cy="384.6" rx="10.7" ry="8.1" fill="#dfe0e2"/>
<ellipse cx="701" cy="383.2" rx="7" ry="4" fill="#ebeced"/>
<ellipse cx="548.1" cy="409.2" rx="11.2" ry="8.9" fill="#9fa1a4"/>
<ellipse cx="548.1" cy="408.4" rx="10.7" ry="8.1" fill="#dfe0e2"/>
<ellipse cx="547.1" cy="407" rx="7" ry="4" fill="#ebeced"/>
<ellipse cx="702" cy="409.2" rx="11.2" ry="8.9" fill="#9fa1a4"/>
<ellipse cx="702" cy="408.4" rx="10.7" ry="8.1" fill="#dfe0e2"/>
<ellipse cx="701" cy="407" rx="7" ry="4" fill="#ebeced"/>
<ellipse cx="548.1" cy="432.6" rx="11.2" ry="8.9" fill="#9fa1a4"/>
<ellipse cx="548.1" cy="431.8" rx="10.7" ry="8.1" fill="#dfe0e2"/>
<ellipse cx="547.1" cy="430.4" rx="7" ry="4" fill="#ebeced"/>
<ellipse cx="702" cy="432.6" rx="11.2" ry="8.9" fill="#9fa1a4"/>
<ellipse cx="702" cy="431.8" rx="10.7" ry="8.1" fill="#dfe0e2"/>
<ellipse cx="701" cy="430.4" rx="7" ry="4" fill="#ebeced"/>
<ellipse cx="548.1" cy="455.9" rx="11.2" ry="8.9" fill="#9fa1a4"/>
<ellipse cx="548.1" cy="455.1" rx="10.7" ry="8.1" fill="#dfe0e2"/>
<ellipse cx="547.1" cy="453.7" rx="7" ry="4" fill="#ebeced"/>
<ellipse cx="702" cy="455.9" rx="11.2" ry="8.9" fill="#9fa1a4"/>
<ellipse cx="702" cy="455.1" rx="10.7" ry="8.1" fill="#dfe0e2"/>
<ellipse cx="701" cy="453.7" rx="7" ry="4" fill="#ebeced"/>
<ellipse cx="548.1" cy="479.9" rx="11.2" ry="8.9" fill="#9fa1a4"/>
<ellipse cx="548.1" cy="479.1" rx="10.7" ry="8.1" fill="#dfe0e2"/>
<ellipse cx="547.1" cy="477.7" rx="7" ry="4" fill="#ebeced"/>
<ellipse cx="702" cy="479.9" rx="11.2" ry="8.9" fill="#9fa1a4"/>
<ellipse cx="702" cy="479.1" rx="10.7" ry="8.1" fill="#dfe0e2"/>
<ellipse cx="701" cy="477.7" rx="7" ry="4" fill="#ebeced"/>
<text x="742" y="346.2" font-family="Liberation Sans" font-weight="bold" font-size="11.5" fill="#fff" text-anchor="start" transform="rotate(-90 742 346.2)" textLength="26.8" lengthAdjust="spacingAndGlyphs">PWR</text>
<rect x="753.5" y="310.6" width="24" height="9" fill="none" stroke="#c9ccd0" stroke-width="2" rx="4"/>
<rect x="753.5" y="349.6" width="24" height="9" fill="none" stroke="#c9ccd0" stroke-width="2" rx="4"/>
<rect x="754.5" y="320.9" width="19" height="7.87" fill="#c4c6c9" rx="1.5"/>
<rect x="754.5" y="330.57" width="19" height="7.87" fill="#c4c6c9" rx="1.5"/>
<rect x="754.5" y="340.23" width="19" height="7.87" fill="#c4c6c9" rx="1.5"/>
<line x1="776.5" y1="319.6" x2="776.5" y2="349.6" stroke="#c9ccd0" stroke-width="1.3"/>
<rect x="734" y="378.6" width="28" height="14.4" fill="none" stroke="#c8ccd2" stroke-width="1.1" rx="2.5"/>
<rect x="736" y="380.4" width="24" height="10.8" fill="#cfd2d6" rx="1"/>
<rect x="742.4" y="380.4" width="11.2" height="10.8" fill="#25282e"/>
<line x1="727" y1="405.5" x2="780" y2="405.5" stroke="#c8ccd2" stroke-width="1.3"/>
<path d="M747,409 L747,491 L780,491" fill="none" stroke="#c8ccd2" stroke-width="1.3"/>
<line x1="747" y1="446" x2="780" y2="446" stroke="#c8ccd2" stroke-width="1.1"/>
<rect x="721.4" y="412" width="17" height="76" fill="#12161f"/>
<rect x="723" y="416.8" width="14.5" height="2.4" fill="#c9cbce" rx="1"/>
<rect x="723" y="421.05" width="14.5" height="2.4" fill="#c9cbce" rx="1"/>
<rect x="723" y="425.3" width="14.5" height="2.4" fill="#c9cbce" rx="1"/>
<rect x="723" y="429.55" width="14.5" height="2.4" fill="#c9cbce" rx="1"/>
<rect x="723" y="433.8" width="14.5" height="2.4" fill="#c9cbce" rx="1"/>
<rect x="723" y="438.05" width="14.5" height="2.4" fill="#c9cbce" rx="1"/>
<rect x="723" y="442.3" width="14.5" height="2.4" fill="#c9cbce" rx="1"/>
<rect x="723" y="446.55" width="14.5" height="2.4" fill="#c9cbce" rx="1"/>
<rect x="723" y="450.8" width="14.5" height="2.4" fill="#c9cbce" rx="1"/>
<rect x="723" y="455.05" width="14.5" height="2.4" fill="#c9cbce" rx="1"/>
<rect x="723" y="459.3" width="14.5" height="2.4" fill="#c9cbce" rx="1"/>
<rect x="723" y="463.55" width="14.5" height="2.4" fill="#c9cbce" rx="1"/>
<rect x="723" y="467.8" width="14.5" height="2.4" fill="#c9cbce" rx="1"/>
<rect x="723" y="472.05" width="14.5" height="2.4" fill="#c9cbce" rx="1"/>
<rect x="723" y="476.3" width="14.5" height="2.4" fill="#c9cbce" rx="1"/>
<rect x="723" y="480.55" width="14.5" height="2.4" fill="#c9cbce" rx="1"/>
<rect x="746" y="425.7" width="11" height="12.3" fill="#0b0d12" stroke="#c8ccd2" stroke-width="1.1"/>
<rect x="746" y="461.4" width="11" height="12.6" fill="#0b0d12" stroke="#c8ccd2" stroke-width="1.1"/>
<rect x="766" y="427.5" width="14" height="44.5" fill="#d5d6d7" rx="1.5"/>
<rect x="768" y="430" width="10" height="10" fill="#e9eaeb"/>
<ellipse cx="737.5" cy="406" rx="9" ry="3.5" fill="#cfd2d6"/>
<ellipse cx="773" cy="406" rx="7" ry="3.5" fill="#cfd2d6"/>
<ellipse cx="737.5" cy="492.5" rx="9" ry="3.5" fill="#cfd2d6"/>
<ellipse cx="773" cy="492.5" rx="7" ry="3.5" fill="#cfd2d6"/>
<rect x="750" y="497" width="19.6" height="21.6" fill="none" stroke="#c8ccd2" stroke-width="1.1" rx="2.5"/>
<rect x="752" y="498.8" width="15.6" height="18" fill="#c0c3c6" rx="1"/>
<rect x="755.88" y="498.8" width="7.84" height="18" fill="#2a2d33"/>
<text x="493.6" y="533.7" font-family="Liberation Sans" font-weight="bold" font-size="9.4" fill="#fff" text-anchor="start" textLength="32.2" lengthAdjust="spacingAndGlyphs">4G_GND</text>
<text x="493.6" y="555.2" font-family="Liberation Sans" font-weight="bold" font-size="9.4" fill="#fff" text-anchor="start" textLength="32.2" lengthAdjust="spacingAndGlyphs">4G_TXD</text>
<text x="493.6" y="577.7" font-family="Liberation Sans" font-weight="bold" font-size="9.4" fill="#fff" text-anchor="start" textLength="32.2" lengthAdjust="spacingAndGlyphs">4G_RXD</text>
<text x="487.7" y="628" font-family="Liberation Sans" font-weight="bold" font-size="9.4" fill="#fff" text-anchor="start" textLength="38.1" lengthAdjust="spacingAndGlyphs">4G_VBAT</text>
<rect x="477.6" y="524" width="12" height="17" fill="none" stroke="#7d8fb5" stroke-width="1.2" rx="1.5"/>
<rect x="480" y="526.5" width="7" height="4" fill="#9eaac0" rx="1"/>
<rect x="480" y="534" width="7" height="4" fill="#9eaac0" rx="1"/>
<rect x="477.6" y="545" width="12" height="17" fill="none" stroke="#7d8fb5" stroke-width="1.2" rx="1.5"/>
<rect x="480" y="547.5" width="7" height="4" fill="#9eaac0" rx="1"/>
<rect x="480" y="555" width="7" height="4" fill="#9eaac0" rx="1"/>
<rect x="477.6" y="566" width="12" height="17" fill="none" stroke="#7d8fb5" stroke-width="1.2" rx="1.5"/>
<rect x="480" y="568.5" width="7" height="4" fill="#9eaac0" rx="1"/>
<rect x="480" y="576" width="7" height="4" fill="#9eaac0" rx="1"/>
<circle cx="539.7" cy="529.4" r="6.9" fill="#c6c8cb"/>
<circle cx="539.7" cy="529.4" r="4.6" fill="#777a7e"/>
<circle cx="539.7" cy="529.4" r="3.3" fill="#0a0b0e"/>
<circle cx="727.2" cy="529.4" r="6.9" fill="#c6c8cb"/>
<circle cx="727.2" cy="529.4" r="4.6" fill="#777a7e"/>
<circle cx="727.2" cy="529.4" r="3.3" fill="#0a0b0e"/>
<circle cx="539.7" cy="553" r="6.9" fill="#c6c8cb"/>
<circle cx="539.7" cy="553" r="4.6" fill="#777a7e"/>
<circle cx="539.7" cy="553" r="3.3" fill="#0a0b0e"/>
<circle cx="727.2" cy="553" r="6.9" fill="#c6c8cb"/>
<circle cx="727.2" cy="553" r="4.6" fill="#777a7e"/>
<circle cx="727.2" cy="553" r="3.3" fill="#0a0b0e"/>
<circle cx="539.7" cy="576.3" r="6.9" fill="#c6c8cb"/>
<circle cx="539.7" cy="576.3" r="4.6" fill="#777a7e"/>
<circle cx="539.7" cy="576.3" r="3.3" fill="#0a0b0e"/>
<circle cx="727.2" cy="576.3" r="6.9" fill="#c6c8cb"/>
<circle cx="727.2" cy="576.3" r="4.6" fill="#777a7e"/>
<circle cx="727.2" cy="576.3" r="3.3" fill="#0a0b0e"/>
<circle cx="539.7" cy="599.9" r="6.9" fill="#c6c8cb"/>
<circle cx="539.7" cy="599.9" r="4.6" fill="#777a7e"/>
<circle cx="539.7" cy="599.9" r="3.3" fill="#0a0b0e"/>
<circle cx="727.2" cy="599.9" r="6.9" fill="#c6c8cb"/>
<circle cx="727.2" cy="599.9" r="4.6" fill="#777a7e"/>
<circle cx="727.2" cy="599.9" r="3.3" fill="#0a0b0e"/>
<circle cx="539.7" cy="623.1" r="6.9" fill="#c6c8cb"/>
<circle cx="539.7" cy="623.1" r="4.6" fill="#777a7e"/>
<circle cx="539.7" cy="623.1" r="3.3" fill="#0a0b0e"/>
<circle cx="727.2" cy="623.1" r="6.9" fill="#c6c8cb"/>
<circle cx="727.2" cy="623.1" r="4.6" fill="#777a7e"/>
<circle cx="727.2" cy="623.1" r="3.3" fill="#0a0b0e"/>
<text x="527" y="657" font-family="Liberation Serif" font-weight="normal" font-size="31" fill="#353b47" text-anchor="start" transform="rotate(-5 527 657)" textLength="180" lengthAdjust="spacingAndGlyphs">SPOTPEAR</text>
<text x="609.4" y="692" font-family="Liberation Sans" font-weight="bold" font-size="11" fill="#fff" text-anchor="start" textLength="11.1" lengthAdjust="spacingAndGlyphs">4G</text>
<text x="663" y="693" font-family="Liberation Sans" font-weight="bold" font-size="11" fill="#fff" text-anchor="start" textLength="29.4" lengthAdjust="spacingAndGlyphs">Charge</text>
<rect x="699.5" y="682.5" width="21.5" height="10.5" fill="none" stroke="#6d86b8" stroke-width="1.3" rx="1"/>
<rect x="703" y="685" width="14" height="5.5" fill="#d6d8dc" rx="2"/>
<rect x="752.8" y="552" width="24" height="9" fill="none" stroke="#c9ccd0" stroke-width="2" rx="4"/>
<rect x="752.8" y="594" width="24" height="9" fill="none" stroke="#c9ccd0" stroke-width="2" rx="4"/>
<rect x="753.8" y="562.3" width="19" height="8.87" fill="#c4c6c9" rx="1.5"/>
<rect x="753.8" y="572.97" width="19" height="8.87" fill="#c4c6c9" rx="1.5"/>
<rect x="753.8" y="583.63" width="19" height="8.87" fill="#c4c6c9" rx="1.5"/>
<line x1="775.8" y1="561" x2="775.8" y2="594" stroke="#c9ccd0" stroke-width="1.3"/>
<ellipse cx="751.8" cy="635" rx="4.5" ry="3" fill="#c9cbce"/>
<ellipse cx="751.8" cy="646" rx="4.5" ry="3.2" fill="#c9cbce"/>
<path d="M873,217.5 L1601.5,217.8 L1605.5,682 Q1605.5,687 1600.5,687 L878,692.5 Q873,692.5 873,687.5 Z" fill="url(#rbg)"/>
<rect x="874" y="219" width="52" height="472" fill="#0f1214"/>
<line x1="873" y1="425.8" x2="932" y2="425.8" stroke="#d6d9dc" stroke-width="1.5"/>
<line x1="873" y1="481" x2="932" y2="481" stroke="#d6d9dc" stroke-width="1.5"/>
<path d="M1141.6,234.5 L1150.3,228.7 L1346,228.7 L1386.7,269.3 L1386.7,452 L1408.5,473.8" fill="none" stroke="#272c31" stroke-width="1.2"/>
<path d="M1141.6,238.5 L1150.3,233 L1344,233 L1382.5,271.5 L1382.5,454 L1404,475.5" fill="none" stroke="#272c31" stroke-width="1.2"/>
<path d="M1130,244.7 L1234.4,244.7 L1257.6,267.9 L1257.6,318.6" fill="none" stroke="#272c31" stroke-width="1.2"/>
<path d="M1225.7,381 L1283.8,381 L1330,336 L1330,300" fill="none" stroke="#272c31" stroke-width="1.2"/>
<path d="M1225.7,449.2 L1359,449.2 L1382.4,472.4" fill="none" stroke="#272c31" stroke-width="1.2"/>
<path d="M1226,447.4 L1353.7,447.4 L1436.4,525.8" fill="none" stroke="#272c31" stroke-width="1.2"/>
<path d="M1226,451.5 L1350,451.5 L1432,529" fill="none" stroke="#272c31" stroke-width="1.2"/>
<path d="M1387,430 L1387,456 L1413,473.5 L1433.5,492.4 L1484,514" fill="none" stroke="#272c31" stroke-width="1.2"/>
<path d="M1390,457.6 L1433.5,492.4 L1523.5,552" fill="none" stroke="#272c31" stroke-width="1.2"/>
<path d="M1227.4,575 L1265,537.4 L1477,537.4" fill="none" stroke="#272c31" stroke-width="1.2"/>
<path d="M1343.5,639 L1424.8,556.3 L1552.5,556.3" fill="none" stroke="#272c31" stroke-width="1.2"/>
<path d="M1346.5,648 L1427.7,565 L1555.4,565" fill="none" stroke="#272c31" stroke-width="1.2"/>
<path d="M1442,572.2 L1497.4,633.2 L1500,647.7" fill="none" stroke="#272c31" stroke-width="1.2"/>
<path d="M1000,325 L1071,325" fill="none" stroke="#272c31" stroke-width="1.2"/>
<path d="M1000,329 L1071,329" fill="none" stroke="#272c31" stroke-width="1.2"/>
<path d="M1200,360 L1160,320 L1160,300" fill="none" stroke="#272c31" stroke-width="1.2"/>
<path d="M930,300 L960,330 L960,360" fill="none" stroke="#272c31" stroke-width="1.2"/>
<path d="M1010,480 L1060,530 L1060,540" fill="none" stroke="#272c31" stroke-width="1.2"/>
<path d="M1100,430 L1120,450" fill="none" stroke="#272c31" stroke-width="1.2"/>
<path d="M1040,455 L1010,425 L1010,390" fill="none" stroke="#272c31" stroke-width="1.2"/>
<path d="M1145,520 L1150,540 L1150,560" fill="none" stroke="#272c31" stroke-width="1.2"/>
<path d="M1260,660 L1300,620 L1330,620" fill="none" stroke="#272c31" stroke-width="1.2"/>
<path d="M1330,655 L1380,655 L1420,620" fill="none" stroke="#272c31" stroke-width="1.2"/>
<circle cx="925.5" cy="240" r="1.1" fill="#2c3135"/>
<circle cx="925.5" cy="248" r="1.1" fill="#2c3135"/>
<circle cx="925.5" cy="256" r="1.1" fill="#2c3135"/>
<circle cx="925.5" cy="264" r="1.1" fill="#2c3135"/>
<circle cx="925.5" cy="272" r="1.1" fill="#2c3135"/>
<circle cx="925.5" cy="280" r="1.1" fill="#2c3135"/>
<circle cx="925.5" cy="288" r="1.1" fill="#2c3135"/>
<circle cx="925.5" cy="296" r="1.1" fill="#2c3135"/>
<circle cx="925.5" cy="304" r="1.1" fill="#2c3135"/>
<circle cx="925.5" cy="312" r="1.1" fill="#2c3135"/>
<circle cx="925.5" cy="320" r="1.1" fill="#2c3135"/>
<circle cx="925.5" cy="328" r="1.1" fill="#2c3135"/>
<circle cx="925.5" cy="336" r="1.1" fill="#2c3135"/>
<circle cx="925.5" cy="344" r="1.1" fill="#2c3135"/>
<circle cx="925.5" cy="352" r="1.1" fill="#2c3135"/>
<circle cx="925.5" cy="360" r="1.1" fill="#2c3135"/>
<circle cx="925.5" cy="368" r="1.1" fill="#2c3135"/>
<circle cx="925.5" cy="376" r="1.1" fill="#2c3135"/>
<circle cx="925.5" cy="384" r="1.1" fill="#2c3135"/>
<circle cx="925.5" cy="392" r="1.1" fill="#2c3135"/>
<circle cx="925.5" cy="400" r="1.1" fill="#2c3135"/>
<circle cx="925.5" cy="408" r="1.1" fill="#2c3135"/>
<circle cx="925.5" cy="416" r="1.1" fill="#2c3135"/>
<circle cx="925.5" cy="424" r="1.1" fill="#2c3135"/>
<circle cx="925.5" cy="432" r="1.1" fill="#2c3135"/>
<circle cx="925.5" cy="440" r="1.1" fill="#2c3135"/>
<circle cx="925.5" cy="448" r="1.1" fill="#2c3135"/>
<circle cx="925.5" cy="456" r="1.1" fill="#2c3135"/>
<circle cx="925.5" cy="464" r="1.1" fill="#2c3135"/>
<circle cx="925.5" cy="472" r="1.1" fill="#2c3135"/>
<circle cx="925.5" cy="480" r="1.1" fill="#2c3135"/>
<circle cx="925.5" cy="488" r="1.1" fill="#2c3135"/>
<circle cx="925.5" cy="496" r="1.1" fill="#2c3135"/>
<circle cx="925.5" cy="504" r="1.1" fill="#2c3135"/>
<circle cx="925.5" cy="512" r="1.1" fill="#2c3135"/>
<circle cx="925.5" cy="520" r="1.1" fill="#2c3135"/>
<circle cx="925.5" cy="528" r="1.1" fill="#2c3135"/>
<circle cx="925.5" cy="536" r="1.1" fill="#2c3135"/>
<circle cx="925.5" cy="544" r="1.1" fill="#2c3135"/>
<circle cx="925.5" cy="552" r="1.1" fill="#2c3135"/>
<circle cx="925.5" cy="560" r="1.1" fill="#2c3135"/>
<circle cx="925.5" cy="568" r="1.1" fill="#2c3135"/>
<circle cx="925.5" cy="576" r="1.1" fill="#2c3135"/>
<circle cx="925.5" cy="584" r="1.1" fill="#2c3135"/>
<circle cx="925.5" cy="592" r="1.1" fill="#2c3135"/>
<circle cx="925.5" cy="600" r="1.1" fill="#2c3135"/>
<circle cx="925.5" cy="608" r="1.1" fill="#2c3135"/>
<circle cx="925.5" cy="616" r="1.1" fill="#2c3135"/>
<circle cx="925.5" cy="624" r="1.1" fill="#2c3135"/>
<circle cx="925.5" cy="632" r="1.1" fill="#2c3135"/>
<circle cx="925.5" cy="640" r="1.1" fill="#2c3135"/>
<circle cx="925.5" cy="648" r="1.1" fill="#2c3135"/>
<circle cx="925.5" cy="656" r="1.1" fill="#2c3135"/>
<circle cx="925.5" cy="664" r="1.1" fill="#2c3135"/>
<circle cx="925.5" cy="672" r="1.1" fill="#2c3135"/>
<circle cx="925.5" cy="680" r="1.1" fill="#2c3135"/>
<circle cx="1145.35" cy="294.39" r="1.36" fill="#3b4044"/>
<circle cx="978.17" cy="471.51" r="1.16" fill="#3b4044"/>
<circle cx="968.57" cy="458.42" r="0.93" fill="#3b4044"/>
<circle cx="1218.37" cy="257.13" r="0.96" fill="#3b4044"/>
<circle cx="1212.31" cy="605.35" r="0.99" fill="#3b4044"/>
<circle cx="1078.45" cy="513.62" r="1.56" fill="#3b4044"/>
<circle cx="1313.77" cy="407.47" r="1.58" fill="#3b4044"/>
<circle cx="960.98" cy="619.9" r="1.1" fill="#3b4044"/>
<circle cx="1025.93" cy="279.18" r="1.12" fill="#3b4044"/>
<circle cx="1472.72" cy="308.13" r="1.31" fill="#3b4044"/>
<circle cx="1354.88" cy="396.3" r="1.28" fill="#3b4044"/>
<circle cx="971.75" cy="252.42" r="1.04" fill="#3b4044"/>
<circle cx="1382.47" cy="421.69" r="1.12" fill="#3b4044"/>
<circle cx="1319.4" cy="433.46" r="1.11" fill="#3b4044"/>
<circle cx="1458.26" cy="546.54" r="1.07" fill="#3b4044"/>
<circle cx="1311.99" cy="466.59" r="1.51" fill="#3b4044"/>
<circle cx="1415.08" cy="357.45" r="1.59" fill="#3b4044"/>
<circle cx="1008.51" cy="417.34" r="1.43" fill="#3b4044"/>
<circle cx="1031.07" cy="449.92" r="0.93" fill="#3b4044"/>
<circle cx="1374.36" cy="576.7" r="1.3" fill="#3b4044"/>
<circle cx="1512.19" cy="369.32" r="1.39" fill="#3b4044"/>
<circle cx="1325.26" cy="491.75" r="1.22" fill="#3b4044"/>
<circle cx="1488.58" cy="659.55" r="1.23" fill="#3b4044"/>
<circle cx="1371.66" cy="252.91" r="1.39" fill="#3b4044"/>
<circle cx="1360.34" cy="681.82" r="1.48" fill="#3b4044"/>
<circle cx="1119.26" cy="402.46" r="1.37" fill="#3b4044"/>
<circle cx="945" cy="437.38" r="1.02" fill="#3b4044"/>
<circle cx="1007.87" cy="252.12" r="1.44" fill="#3b4044"/>
<circle cx="1016.01" cy="338.9" r="1.17" fill="#3b4044"/>
<circle cx="1509.5" cy="262.07" r="1.21" fill="#3b4044"/>
<circle cx="1295.38" cy="631.36" r="1.47" fill="#3b4044"/>
<circle cx="1504.55" cy="353.07" r="1.19" fill="#3b4044"/>
<circle cx="1168.58" cy="631.73" r="1.57" fill="#3b4044"/>
<circle cx="1030.36" cy="306.06" r="1.06" fill="#3b4044"/>
<circle cx="1085.17" cy="448.08" r="1.31" fill="#3b4044"/>
<circle cx="1104.73" cy="226.88" r="1.19" fill="#3b4044"/>
<circle cx="1175.55" cy="485.52" r="1.57" fill="#3b4044"/>
<circle cx="1389.18" cy="462.13" r="1.33" fill="#3b4044"/>
<circle cx="1379.67" cy="249.84" r="1.53" fill="#3b4044"/>
<circle cx="1448.68" cy="627.28" r="1.46" fill="#3b4044"/>
<circle cx="1190.93" cy="408.53" r="0.97" fill="#3b4044"/>
<circle cx="1351.8" cy="253.63" r="0.95" fill="#3b4044"/>
<circle cx="1068.83" cy="299.66" r="1.14" fill="#3b4044"/>
<circle cx="964.96" cy="225.11" r="1.01" fill="#3b4044"/>
<circle cx="997.47" cy="392.26" r="0.92" fill="#3b4044"/>
<circle cx="1511.43" cy="507.47" r="1" fill="#3b4044"/>
<circle cx="1097.75" cy="384.8" r="1.15" fill="#3b4044"/>
<circle cx="1011.69" cy="615.51" r="1.6" fill="#3b4044"/>
<circle cx="1239.88" cy="447.56" r="0.96" fill="#3b4044"/>
<circle cx="997.95" cy="382.61" r="1.09" fill="#3b4044"/>
<circle cx="1481.19" cy="299.26" r="0.92" fill="#3b4044"/>
<circle cx="1562.41" cy="468" r="1" fill="#3b4044"/>
<circle cx="1291.21" cy="237.44" r="1.27" fill="#3b4044"/>
<circle cx="1580.7" cy="622.13" r="1.39" fill="#3b4044"/>
<circle cx="1103.64" cy="393.68" r="1.02" fill="#3b4044"/>
<circle cx="1443.34" cy="469.99" r="1.45" fill="#3b4044"/>
<circle cx="1149.23" cy="327.6" r="1.47" fill="#3b4044"/>
<circle cx="1584.98" cy="617.21" r="1.46" fill="#3b4044"/>
<circle cx="1474.19" cy="565.34" r="1.06" fill="#3b4044"/>
<circle cx="1274.23" cy="388.56" r="0.92" fill="#3b4044"/>
<circle cx="948.58" cy="353.53" r="1.08" fill="#3b4044"/>
<circle cx="1390.53" cy="665" r="1.21" fill="#3b4044"/>
<circle cx="1553.12" cy="679.5" r="1.57" fill="#3b4044"/>
<circle cx="1172.48" cy="326.41" r="1.06" fill="#3b4044"/>
<circle cx="1060.81" cy="319.01" r="1.34" fill="#3b4044"/>
<circle cx="1528.71" cy="611.6" r="1.24" fill="#3b4044"/>
<circle cx="1364.23" cy="592.84" r="0.96" fill="#3b4044"/>
<circle cx="1369.29" cy="643.5" r="1.45" fill="#3b4044"/>
<circle cx="1428.84" cy="444.9" r="1.02" fill="#3b4044"/>
<circle cx="1454.78" cy="377.96" r="1.46" fill="#3b4044"/>
<circle cx="1576.15" cy="407.09" r="1.18" fill="#3b4044"/>
<circle cx="1559.62" cy="558.41" r="1.02" fill="#3b4044"/>
<circle cx="1014.48" cy="294.53" r="1.53" fill="#3b4044"/>
<circle cx="1466.32" cy="292.24" r="1.48" fill="#3b4044"/>
<circle cx="1581.9" cy="527.34" r="1.15" fill="#3b4044"/>
<circle cx="1294.86" cy="285.25" r="0.91" fill="#3b4044"/>
<circle cx="1575.64" cy="523.85" r="1.27" fill="#3b4044"/>
<circle cx="1550.86" cy="424.55" r="1.51" fill="#3b4044"/>
<circle cx="1479.39" cy="322.08" r="1.08" fill="#3b4044"/>
<circle cx="1124.82" cy="335.65" r="1.31" fill="#3b4044"/>
<circle cx="1102.48" cy="417.75" r="0.99" fill="#3b4044"/>
<circle cx="1535.16" cy="387.74" r="1.22" fill="#3b4044"/>
<circle cx="1317.93" cy="640.98" r="1.19" fill="#3b4044"/>
<circle cx="1540.28" cy="455.76" r="1.27" fill="#3b4044"/>
<circle cx="1278.13" cy="233.6" r="1.21" fill="#3b4044"/>
<circle cx="1051.77" cy="226.81" r="1.46" fill="#3b4044"/>
<circle cx="1044.61" cy="442.81" r="1.41" fill="#3b4044"/>
<circle cx="1300.06" cy="374.95" r="1.26" fill="#3b4044"/>
<circle cx="1299.37" cy="585.77" r="0.97" fill="#3b4044"/>
<circle cx="1302.6" cy="339.31" r="1.09" fill="#3b4044"/>
<circle cx="1443.55" cy="458.55" r="1.29" fill="#3b4044"/>
<circle cx="1435.4" cy="644.74" r="1.21" fill="#3b4044"/>
<circle cx="1337.33" cy="457.55" r="1.26" fill="#3b4044"/>
<circle cx="1390.67" cy="433.08" r="1.27" fill="#3b4044"/>
<circle cx="1247.89" cy="658.09" r="1.39" fill="#3b4044"/>
<circle cx="1512.9" cy="658.4" r="1.08" fill="#3b4044"/>
<circle cx="1302.08" cy="658.9" r="1.49" fill="#3b4044"/>
<circle cx="1021.19" cy="280.95" r="1.21" fill="#3b4044"/>
<circle cx="978.24" cy="335.69" r="0.95" fill="#3b4044"/>
<circle cx="1375.2" cy="585.61" r="1.53" fill="#3b4044"/>
<circle cx="1032.71" cy="554.42" r="1.36" fill="#3b4044"/>
<circle cx="1025.08" cy="631.1" r="1.58" fill="#3b4044"/>
<circle cx="1076.03" cy="663.15" r="1.18" fill="#3b4044"/>
<circle cx="1254.03" cy="680.34" r="1.48" fill="#3b4044"/>
<circle cx="1037.37" cy="423.5" r="1.26" fill="#3b4044"/>
<circle cx="1155.51" cy="315.04" r="1.12" fill="#3b4044"/>
<circle cx="1410.23" cy="233.96" r="1.29" fill="#3b4044"/>
<circle cx="1222.9" cy="233.32" r="1.13" fill="#3b4044"/>
<circle cx="1344.91" cy="460.64" r="0.95" fill="#3b4044"/>
<circle cx="1585.08" cy="587.65" r="1.58" fill="#3b4044"/>
<circle cx="999.68" cy="347.16" r="0.93" fill="#3b4044"/>
<circle cx="1448.03" cy="349.41" r="0.99" fill="#3b4044"/>
<circle cx="1210.8" cy="644.25" r="1.47" fill="#3b4044"/>
<circle cx="1101.97" cy="293.71" r="1.54" fill="#3b4044"/>
<circle cx="1309.45" cy="547.19" r="0.96" fill="#3b4044"/>
<circle cx="968.26" cy="541.57" r="1.2" fill="#3b4044"/>
<circle cx="978.16" cy="656.64" r="1.34" fill="#3b4044"/>
<circle cx="1463.08" cy="263.52" r="1.5" fill="#3b4044"/>
<circle cx="974.3" cy="621.88" r="1.22" fill="#3b4044"/>
<circle cx="1155.54" cy="479.41" r="1.55" fill="#3b4044"/>
<circle cx="1108.13" cy="284.44" r="1.27" fill="#3b4044"/>
<circle cx="1088.56" cy="275.35" r="1.01" fill="#3b4044"/>
<circle cx="963.5" cy="317.81" r="1.12" fill="#3b4044"/>
<circle cx="1132.83" cy="574.37" r="1.1" fill="#3b4044"/>
<circle cx="1262.56" cy="306.83" r="1.14" fill="#3b4044"/>
<circle cx="942.08" cy="340.21" r="0.91" fill="#3b4044"/>
<circle cx="1417.5" cy="478.48" r="1.03" fill="#3b4044"/>
<circle cx="1245.72" cy="654.94" r="0.97" fill="#3b4044"/>
<circle cx="1474.58" cy="423.8" r="1.25" fill="#3b4044"/>
<circle cx="1485.02" cy="405.82" r="1.25" fill="#3b4044"/>
<circle cx="1387.35" cy="676.92" r="1.14" fill="#3b4044"/>
<circle cx="1483.47" cy="550.09" r="1.35" fill="#3b4044"/>
<circle cx="1199.12" cy="384.87" r="0.94" fill="#3b4044"/>
<circle cx="1016.33" cy="257.53" r="1.42" fill="#3b4044"/>
<circle cx="1099.97" cy="300.09" r="0.96" fill="#3b4044"/>
<circle cx="1489.44" cy="625.45" r="1.37" fill="#3b4044"/>
<circle cx="1117.49" cy="336.42" r="1.11" fill="#3b4044"/>
<circle cx="1235.54" cy="297.47" r="1.21" fill="#3b4044"/>
<circle cx="1105.06" cy="667.42" r="1.58" fill="#3b4044"/>
<circle cx="1293.8" cy="337.45" r="1.58" fill="#3b4044"/>
<circle cx="1135.85" cy="389.03" r="0.9" fill="#3b4044"/>
<circle cx="1183.78" cy="443.34" r="1.25" fill="#3b4044"/>
<circle cx="1063.65" cy="457.18" r="0.9" fill="#3b4044"/>
<circle cx="1105.67" cy="266.29" r="1.18" fill="#3b4044"/>
<circle cx="957.71" cy="235.35" r="1.11" fill="#3b4044"/>
<circle cx="1084.82" cy="494.37" r="1.27" fill="#3b4044"/>
<circle cx="1429.11" cy="527.47" r="1.4" fill="#3b4044"/>
<circle cx="1514.6" cy="404.18" r="1.13" fill="#3b4044"/>
<circle cx="1584.84" cy="293.75" r="1.41" fill="#3b4044"/>
<circle cx="1357.74" cy="245.14" r="1.48" fill="#3b4044"/>
<circle cx="1523.14" cy="513.57" r="1.41" fill="#3b4044"/>
<circle cx="1470.13" cy="289.08" r="1.27" fill="#3b4044"/>
<circle cx="1265.41" cy="609.07" r="1.46" fill="#3b4044"/>
<circle cx="1479.56" cy="493.67" r="1.52" fill="#3b4044"/>
<circle cx="1384.13" cy="543.93" r="1.06" fill="#3b4044"/>
<circle cx="950.72" cy="286.22" r="1.15" fill="#3b4044"/>
<circle cx="999.77" cy="609.48" r="1.29" fill="#3b4044"/>
<circle cx="1347.47" cy="513.06" r="1.38" fill="#3b4044"/>
<circle cx="1255.38" cy="226.52" r="1.46" fill="#3b4044"/>
<circle cx="1427.6" cy="456.37" r="1.27" fill="#3b4044"/>
<circle cx="892.5" cy="235.5" r="18.5" fill="#a9a8a3"/>
<circle cx="892.5" cy="235.5" r="16.5" fill="#b9b7b1"/>
<circle cx="892.5" cy="235.5" r="12.3" fill="#c7a35a"/>
<circle cx="892.5" cy="235.5" r="10.8" fill="#fdfbf5"/>
<circle cx="1583" cy="235" r="18.5" fill="#a9a8a3"/>
<circle cx="1583" cy="235" r="16.5" fill="#b9b7b1"/>
<circle cx="1583" cy="235" r="12.3" fill="#c7a35a"/>
<circle cx="1583" cy="235" r="10.8" fill="#fdfbf5"/>
<circle cx="893" cy="672.5" r="18.5" fill="#8e8a83"/>
<circle cx="893" cy="672.5" r="16.5" fill="#b9b7b1"/>
<circle cx="893" cy="672.5" r="12.3" fill="#c7a35a"/>
<circle cx="893" cy="672.5" r="10.8" fill="#fdfbf5"/>
<circle cx="1587" cy="667" r="18.5" fill="#8e8a83"/>
<circle cx="1587" cy="667" r="16.5" fill="#b9b7b1"/>
<circle cx="1587" cy="667" r="12.3" fill="#c7a35a"/>
<circle cx="1587" cy="667" r="10.8" fill="#fdfbf5"/>
<rect x="936.5" y="370.3" width="57.8" height="166.2" fill="none" stroke="#d6d9dc" stroke-width="1.4"/>
<rect x="931.4" y="393" width="5.1" height="117.7" fill="none" stroke="#d6d9dc" stroke-width="1.2"/>
<rect x="938" y="372" width="55" height="163" fill="#0a0b0c"/>
<rect x="937.8" y="385.8" width="24.5" height="135.2" fill="#30353c"/>
<rect x="937.8" y="385.8" width="12.5" height="135.2" fill="#4f555f"/>
<rect x="958" y="375.5" width="29" height="11.3" fill="#ebe2d4" rx="1"/>
<rect x="962.3" y="375.5" width="24.7" height="147.5" fill="#eee5d7"/>
<rect x="944.8" y="521" width="42.2" height="6.5" fill="#ebe2d4" rx="1.5"/>
<rect x="956" y="383.7" width="8.4" height="9.3" fill="#3d4148"/>
<rect x="987.5" y="398" width="12" height="2.4" fill="#b5b3ae" rx="1"/>
<rect x="958" y="398" width="4.3" height="2" fill="#b9a88f"/>
<rect x="987.5" y="402" width="12" height="2.4" fill="#b5b3ae" rx="1"/>
<rect x="958" y="402" width="4.3" height="2" fill="#b9a88f"/>
<rect x="987.5" y="406" width="12" height="2.4" fill="#b5b3ae" rx="1"/>
<rect x="958" y="406" width="4.3" height="2" fill="#b9a88f"/>
<rect x="987.5" y="410" width="12" height="2.4" fill="#b5b3ae" rx="1"/>
<rect x="958" y="410" width="4.3" height="2" fill="#b9a88f"/>
<rect x="987.5" y="414" width="12" height="2.4" fill="#b5b3ae" rx="1"/>
<rect x="958" y="414" width="4.3" height="2" fill="#b9a88f"/>
<rect x="987.5" y="418" width="12" height="2.4" fill="#b5b3ae" rx="1"/>
<rect x="958" y="418" width="4.3" height="2" fill="#b9a88f"/>
<rect x="987.5" y="422" width="12" height="2.4" fill="#b5b3ae" rx="1"/>
<rect x="958" y="422" width="4.3" height="2" fill="#b9a88f"/>
<rect x="987.5" y="426" width="12" height="2.4" fill="#b5b3ae" rx="1"/>
<rect x="958" y="426" width="4.3" height="2" fill="#b9a88f"/>
<rect x="987.5" y="430" width="12" height="2.4" fill="#b5b3ae" rx="1"/>
<rect x="958" y="430" width="4.3" height="2" fill="#b9a88f"/>
<rect x="987.5" y="434" width="12" height="2.4" fill="#b5b3ae" rx="1"/>
<rect x="958" y="434" width="4.3" height="2" fill="#b9a88f"/>
<rect x="987.5" y="438" width="12" height="2.4" fill="#b5b3ae" rx="1"/>
<rect x="958" y="438" width="4.3" height="2" fill="#b9a88f"/>
<rect x="987.5" y="442" width="12" height="2.4" fill="#b5b3ae" rx="1"/>
<rect x="958" y="442" width="4.3" height="2" fill="#b9a88f"/>
<rect x="987.5" y="446" width="12" height="2.4" fill="#b5b3ae" rx="1"/>
<rect x="958" y="446" width="4.3" height="2" fill="#b9a88f"/>
<rect x="987.5" y="450" width="12" height="2.4" fill="#b5b3ae" rx="1"/>
<rect x="958" y="450" width="4.3" height="2" fill="#b9a88f"/>
<rect x="987.5" y="454" width="12" height="2.4" fill="#b5b3ae" rx="1"/>
<rect x="958" y="454" width="4.3" height="2" fill="#b9a88f"/>
<rect x="987.5" y="458" width="12" height="2.4" fill="#b5b3ae" rx="1"/>
<rect x="958" y="458" width="4.3" height="2" fill="#b9a88f"/>
<rect x="987.5" y="462" width="12" height="2.4" fill="#b5b3ae" rx="1"/>
<rect x="958" y="462" width="4.3" height="2" fill="#b9a88f"/>
<rect x="987.5" y="466" width="12" height="2.4" fill="#b5b3ae" rx="1"/>
<rect x="958" y="466" width="4.3" height="2" fill="#b9a88f"/>
<rect x="987.5" y="470" width="12" height="2.4" fill="#b5b3ae" rx="1"/>
<rect x="958" y="470" width="4.3" height="2" fill="#b9a88f"/>
<rect x="987.5" y="474" width="12" height="2.4" fill="#b5b3ae" rx="1"/>
<rect x="958" y="474" width="4.3" height="2" fill="#b9a88f"/>
<rect x="987.5" y="478" width="12" height="2.4" fill="#b5b3ae" rx="1"/>
<rect x="958" y="478" width="4.3" height="2" fill="#b9a88f"/>
<rect x="987.5" y="482" width="12" height="2.4" fill="#b5b3ae" rx="1"/>
<rect x="958" y="482" width="4.3" height="2" fill="#b9a88f"/>
<rect x="987.5" y="486" width="12" height="2.4" fill="#b5b3ae" rx="1"/>
<rect x="958" y="486" width="4.3" height="2" fill="#b9a88f"/>
<rect x="987.5" y="490" width="12" height="2.4" fill="#b5b3ae" rx="1"/>
<rect x="958" y="490" width="4.3" height="2" fill="#b9a88f"/>
<rect x="987.5" y="494" width="12" height="2.4" fill="#b5b3ae" rx="1"/>
<rect x="958" y="494" width="4.3" height="2" fill="#b9a88f"/>
<rect x="987.5" y="498" width="12" height="2.4" fill="#b5b3ae" rx="1"/>
<rect x="958" y="498" width="4.3" height="2" fill="#b9a88f"/>
<rect x="987.5" y="502" width="12" height="2.4" fill="#b5b3ae" rx="1"/>
<rect x="958" y="502" width="4.3" height="2" fill="#b9a88f"/>
<rect x="1160" y="354" width="64.4" height="193.4" fill="none" stroke="#d6d9dc" stroke-width="1.3"/>
<rect x="1176.8" y="319.4" width="47.6" height="263.6" fill="none" stroke="#d6d9dc" stroke-width="1.3"/>
<rect x="1203.6" y="346" width="20.1" height="210" fill="#2b2f34"/>
<rect x="1208" y="350" width="12" height="200" fill="#3a3e44"/>
<rect x="1176.8" y="339.5" width="25.7" height="225.7" fill="#eee5d8"/>
<rect x="1176.8" y="339.5" width="40.2" height="6.5" fill="#efe7db"/>
<rect x="1176.8" y="556.3" width="40.2" height="9" fill="#ece4d6"/>
<rect x="1183.5" y="566.3" width="29.1" height="13.4" fill="#8c8982" rx="1"/>
<rect x="1182" y="323" width="30" height="15" fill="#c9c8c3" rx="1"/>
<rect x="1186" y="326" width="10" height="10" fill="#e8e8e6"/>
<rect x="1164.6" y="359.6" width="12.2" height="2.1" fill="#b3aea6"/>
<rect x="1203.8" y="359.6" width="4.5" height="2" fill="#a79a88"/>
<rect x="1164.6" y="363.57" width="12.2" height="2.1" fill="#b3aea6"/>
<rect x="1203.8" y="363.57" width="4.5" height="2" fill="#a79a88"/>
<rect x="1164.6" y="367.54" width="12.2" height="2.1" fill="#b3aea6"/>
<rect x="1203.8" y="367.54" width="4.5" height="2" fill="#a79a88"/>
<rect x="1164.6" y="371.51" width="12.2" height="2.1" fill="#b3aea6"/>
<rect x="1203.8" y="371.51" width="4.5" height="2" fill="#a79a88"/>
<rect x="1164.6" y="375.48" width="12.2" height="2.1" fill="#b3aea6"/>
<rect x="1203.8" y="375.48" width="4.5" height="2" fill="#a79a88"/>
<rect x="1164.6" y="379.45" width="12.2" height="2.1" fill="#b3aea6"/>
<rect x="1203.8" y="379.45" width="4.5" height="2" fill="#a79a88"/>
<rect x="1164.6" y="383.42" width="12.2" height="2.1" fill="#b3aea6"/>
<rect x="1203.8" y="383.42" width="4.5" height="2" fill="#a79a88"/>
<rect x="1164.6" y="387.39" width="12.2" height="2.1" fill="#b3aea6"/>
<rect x="1203.8" y="387.39" width="4.5" height="2" fill="#a79a88"/>
<rect x="1164.6" y="391.36" width="12.2" height="2.1" fill="#b3aea6"/>
<rect x="1203.8" y="391.36" width="4.5" height="2" fill="#a79a88"/>
<rect x="1164.6" y="395.33" width="12.2" height="2.1" fill="#b3aea6"/>
<rect x="1203.8" y="395.33" width="4.5" height="2" fill="#a79a88"/>
<rect x="1164.6" y="399.3" width="12.2" height="2.1" fill="#b3aea6"/>
<rect x="1203.8" y="399.3" width="4.5" height="2" fill="#a79a88"/>
<rect x="1164.6" y="403.27" width="12.2" height="2.1" fill="#b3aea6"/>
<rect x="1203.8" y="403.27" width="4.5" height="2" fill="#a79a88"/>
<rect x="1164.6" y="407.24" width="12.2" height="2.1" fill="#b3aea6"/>
<rect x="1203.8" y="407.24" width="4.5" height="2" fill="#a79a88"/>
<rect x="1164.6" y="411.21" width="12.2" height="2.1" fill="#b3aea6"/>
<rect x="1203.8" y="411.21" width="4.5" height="2" fill="#a79a88"/>
<rect x="1164.6" y="415.18" width="12.2" height="2.1" fill="#b3aea6"/>
<rect x="1203.8" y="415.18" width="4.5" height="2" fill="#a79a88"/>
<rect x="1164.6" y="419.15" width="12.2" height="2.1" fill="#b3aea6"/>
<rect x="1203.8" y="419.15" width="4.5" height="2" fill="#a79a88"/>
<rect x="1164.6" y="423.12" width="12.2" height="2.1" fill="#b3aea6"/>
<rect x="1203.8" y="423.12" width="4.5" height="2" fill="#a79a88"/>
<rect x="1164.6" y="427.09" width="12.2" height="2.1" fill="#b3aea6"/>
<rect x="1203.8" y="427.09" width="4.5" height="2" fill="#a79a88"/>
<rect x="1164.6" y="431.06" width="12.2" height="2.1" fill="#b3aea6"/>
<rect x="1203.8" y="431.06" width="4.5" height="2" fill="#a79a88"/>
<rect x="1164.6" y="435.03" width="12.2" height="2.1" fill="#b3aea6"/>
<rect x="1203.8" y="435.03" width="4.5" height="2" fill="#a79a88"/>
<rect x="1164.6" y="439" width="12.2" height="2.1" fill="#b3aea6"/>
<rect x="1203.8" y="439" width="4.5" height="2" fill="#a79a88"/>
<rect x="1164.6" y="442.97" width="12.2" height="2.1" fill="#b3aea6"/>
<rect x="1203.8" y="442.97" width="4.5" height="2" fill="#a79a88"/>
<rect x="1164.6" y="446.94" width="12.2" height="2.1" fill="#b3aea6"/>
<rect x="1203.8" y="446.94" width="4.5" height="2" fill="#a79a88"/>
<rect x="1164.6" y="450.91" width="12.2" height="2.1" fill="#b3aea6"/>
<rect x="1203.8" y="450.91" width="4.5" height="2" fill="#a79a88"/>
<rect x="1164.6" y="454.88" width="12.2" height="2.1" fill="#b3aea6"/>
<rect x="1203.8" y="454.88" width="4.5" height="2" fill="#a79a88"/>
<rect x="1164.6" y="458.85" width="12.2" height="2.1" fill="#b3aea6"/>
<rect x="1203.8" y="458.85" width="4.5" height="2" fill="#a79a88"/>
<rect x="1164.6" y="462.82" width="12.2" height="2.1" fill="#b3aea6"/>
<rect x="1203.8" y="462.82" width="4.5" height="2" fill="#a79a88"/>
<rect x="1164.6" y="466.79" width="12.2" height="2.1" fill="#b3aea6"/>
<rect x="1203.8" y="466.79" width="4.5" height="2" fill="#a79a88"/>
<rect x="1164.6" y="470.76" width="12.2" height="2.1" fill="#b3aea6"/>
<rect x="1203.8" y="470.76" width="4.5" height="2" fill="#a79a88"/>
<rect x="1164.6" y="474.73" width="12.2" height="2.1" fill="#b3aea6"/>
<rect x="1203.8" y="474.73" width="4.5" height="2" fill="#a79a88"/>
<rect x="1164.6" y="478.7" width="12.2" height="2.1" fill="#b3aea6"/>
<rect x="1203.8" y="478.7" width="4.5" height="2" fill="#a79a88"/>
<rect x="1164.6" y="482.67" width="12.2" height="2.1" fill="#b3aea6"/>
<rect x="1203.8" y="482.67" width="4.5" height="2" fill="#a79a88"/>
<rect x="1164.6" y="486.64" width="12.2" height="2.1" fill="#b3aea6"/>
<rect x="1203.8" y="486.64" width="4.5" height="2" fill="#a79a88"/>
<rect x="1164.6" y="490.61" width="12.2" height="2.1" fill="#b3aea6"/>
<rect x="1203.8" y="490.61" width="4.5" height="2" fill="#a79a88"/>
<rect x="1164.6" y="494.58" width="12.2" height="2.1" fill="#b3aea6"/>
<rect x="1203.8" y="494.58" width="4.5" height="2" fill="#a79a88"/>
<rect x="1164.6" y="498.55" width="12.2" height="2.1" fill="#b3aea6"/>
<rect x="1203.8" y="498.55" width="4.5" height="2" fill="#a79a88"/>
<rect x="1164.6" y="502.52" width="12.2" height="2.1" fill="#b3aea6"/>
<rect x="1203.8" y="502.52" width="4.5" height="2" fill="#a79a88"/>
<rect x="1164.6" y="506.49" width="12.2" height="2.1" fill="#b3aea6"/>
<rect x="1203.8" y="506.49" width="4.5" height="2" fill="#a79a88"/>
<rect x="1164.6" y="510.46" width="12.2" height="2.1" fill="#b3aea6"/>
<rect x="1203.8" y="510.46" width="4.5" height="2" fill="#a79a88"/>
<rect x="1164.6" y="514.43" width="12.2" height="2.1" fill="#b3aea6"/>
<rect x="1203.8" y="514.43" width="4.5" height="2" fill="#a79a88"/>
<rect x="1164.6" y="518.4" width="12.2" height="2.1" fill="#b3aea6"/>
<rect x="1203.8" y="518.4" width="4.5" height="2" fill="#a79a88"/>
<rect x="1164.6" y="522.37" width="12.2" height="2.1" fill="#b3aea6"/>
<rect x="1203.8" y="522.37" width="4.5" height="2" fill="#a79a88"/>
<rect x="1164.6" y="526.34" width="12.2" height="2.1" fill="#b3aea6"/>
<rect x="1203.8" y="526.34" width="4.5" height="2" fill="#a79a88"/>
<rect x="1164.6" y="530.31" width="12.2" height="2.1" fill="#b3aea6"/>
<rect x="1203.8" y="530.31" width="4.5" height="2" fill="#a79a88"/>
<rect x="1164.6" y="534.28" width="12.2" height="2.1" fill="#b3aea6"/>
<rect x="1203.8" y="534.28" width="4.5" height="2" fill="#a79a88"/>
<rect x="1164.6" y="538.25" width="12.2" height="2.1" fill="#b3aea6"/>
<rect x="1203.8" y="538.25" width="4.5" height="2" fill="#a79a88"/>
<rect x="1164.6" y="542.22" width="12.2" height="2.1" fill="#b3aea6"/>
<rect x="1203.8" y="542.22" width="4.5" height="2" fill="#a79a88"/>
<text x="1170" y="352" font-family="Liberation Sans" font-weight="bold" font-size="8" fill="#fff" text-anchor="start" transform="rotate(-90 1170 352)">CIP</text>
<circle cx="1358.8" cy="284.8" r="8.3" fill="#c3c0b9"/>
<circle cx="1358.8" cy="284.8" r="5.6" fill="#7a7770"/>
<circle cx="1358.8" cy="308.2" r="8.3" fill="#c3c0b9"/>
<circle cx="1358.8" cy="308.2" r="5.6" fill="#7a7770"/>
<circle cx="1358.8" cy="331.7" r="8.3" fill="#c3c0b9"/>
<circle cx="1358.8" cy="331.7" r="5.6" fill="#7a7770"/>
<circle cx="1358.8" cy="354" r="8.3" fill="#c3c0b9"/>
<circle cx="1358.8" cy="354" r="5.6" fill="#7a7770"/>
<circle cx="1358.8" cy="377.4" r="8.3" fill="#c3c0b9"/>
<circle cx="1358.8" cy="377.4" r="5.6" fill="#7a7770"/>
<circle cx="1550.8" cy="283.7" r="8.3" fill="#c3c0b9"/>
<circle cx="1550.8" cy="283.7" r="5.6" fill="#7a7770"/>
<circle cx="1550.8" cy="307" r="8.3" fill="#c3c0b9"/>
<circle cx="1550.8" cy="307" r="5.6" fill="#7a7770"/>
<circle cx="1550.8" cy="330.5" r="8.3" fill="#c3c0b9"/>
<circle cx="1550.8" cy="330.5" r="5.6" fill="#7a7770"/>
<circle cx="1550.8" cy="352.9" r="8.3" fill="#c3c0b9"/>
<circle cx="1550.8" cy="352.9" r="5.6" fill="#7a7770"/>
<ellipse cx="1591" cy="313" rx="5.5" ry="3.5" fill="#b3b1ab"/>
<ellipse cx="1591" cy="351.7" rx="5.5" ry="3.5" fill="#b3b1ab"/>
<ellipse cx="1592" cy="545" rx="5" ry="3.2" fill="#a8a6a0"/>
<ellipse cx="1592" cy="585" rx="5" ry="3.2" fill="#a8a6a0"/>
<ellipse cx="1220.4" cy="643.6" rx="6.5" ry="5" fill="#6c6a66"/>
<ellipse cx="1220.4" cy="643.6" rx="4.5" ry="3.2" fill="#8a8883"/>
<ellipse cx="1263.2" cy="643.2" rx="6.5" ry="5" fill="#6c6a66"/>
<ellipse cx="1263.2" cy="643.2" rx="4.5" ry="3.2" fill="#8a8883"/>
<ellipse cx="1220.4" cy="682.9" rx="6.5" ry="5" fill="#6c6a66"/>
<ellipse cx="1220.4" cy="682.9" rx="4.5" ry="3.2" fill="#8a8883"/>
<ellipse cx="1263.2" cy="682.9" rx="6.5" ry="5" fill="#6c6a66"/>
<ellipse cx="1263.2" cy="682.9" rx="4.5" ry="3.2" fill="#8a8883"/>
<circle cx="1207.9" cy="663.2" r="6.5" fill="#45433f"/>
<circle cx="1207.9" cy="663.2" r="3.5" fill="#2a2826"/>
<path d="M1009,691 L1009,676 Q1015,666 1022,676 L1022,691 Z" fill="#8e8a6c"/>
<path d="M1460.6,687 L1460.6,672 Q1467.8,662 1475,672 L1475,687 Z" fill="#8e8a6c"/>
<rect x="1395.6" y="269" width="51.4" height="57" fill="none" stroke="#d6d9dc" stroke-width="1.3"/>
<rect x="1397.5" y="271" width="47.5" height="12" fill="#c5c3bf"/>
<rect x="1397.5" y="312" width="47.5" height="12.5" fill="#c5c3bf"/>
<rect x="1404.5" y="273" width="37" height="43" fill="#8a847d" rx="5"/>
<rect x="1406" y="275" width="34" height="39" fill="#958e86" rx="4"/>
<text x="1423" y="294" font-family="Liberation Sans" font-weight="normal" font-size="13" fill="#4d4844" text-anchor="middle" transform="rotate(90 1423 294)">2S2</text>
<rect x="1441" y="252" width="17" height="14" fill="none" stroke="#d6d9dc" stroke-width="1.1" rx="1"/>
<rect x="1445" y="255" width="9" height="5" fill="#b3a58c"/>
<rect x="1076" y="377" width="37" height="42" fill="#2a2c30" rx="1.5"/>
<rect x="1072" y="379" width="3.5" height="2.1" fill="#c9c6bf"/>
<rect x="1113.5" y="379" width="3.5" height="2.1" fill="#c9c6bf"/>
<rect x="1077.64" y="419.5" width="2.1" height="3.5" fill="#c9c6bf"/>
<rect x="1077.64" y="373" width="2.1" height="3.5" fill="#c9c6bf"/>
<rect x="1072" y="385" width="3.5" height="2.1" fill="#c9c6bf"/>
<rect x="1113.5" y="385" width="3.5" height="2.1" fill="#c9c6bf"/>
<rect x="1082.93" y="419.5" width="2.1" height="3.5" fill="#c9c6bf"/>
<rect x="1082.93" y="373" width="2.1" height="3.5" fill="#c9c6bf"/>
<rect x="1072" y="391" width="3.5" height="2.1" fill="#c9c6bf"/>
<rect x="1113.5" y="391" width="3.5" height="2.1" fill="#c9c6bf"/>
<rect x="1088.21" y="419.5" width="2.1" height="3.5" fill="#c9c6bf"/>
<rect x="1088.21" y="373" width="2.1" height="3.5" fill="#c9c6bf"/>
<rect x="1072" y="397" width="3.5" height="2.1" fill="#c9c6bf"/>
<rect x="1113.5" y="397" width="3.5" height="2.1" fill="#c9c6bf"/>
<rect x="1093.5" y="419.5" width="2.1" height="3.5" fill="#c9c6bf"/>
<rect x="1093.5" y="373" width="2.1" height="3.5" fill="#c9c6bf"/>
<rect x="1072" y="403" width="3.5" height="2.1" fill="#c9c6bf"/>
<rect x="1113.5" y="403" width="3.5" height="2.1" fill="#c9c6bf"/>
<rect x="1098.79" y="419.5" width="2.1" height="3.5" fill="#c9c6bf"/>
<rect x="1098.79" y="373" width="2.1" height="3.5" fill="#c9c6bf"/>
<rect x="1072" y="409" width="3.5" height="2.1" fill="#c9c6bf"/>
<rect x="1113.5" y="409" width="3.5" height="2.1" fill="#c9c6bf"/>
<rect x="1104.07" y="419.5" width="2.1" height="3.5" fill="#c9c6bf"/>
<rect x="1104.07" y="373" width="2.1" height="3.5" fill="#c9c6bf"/>
<rect x="1072" y="415" width="3.5" height="2.1" fill="#c9c6bf"/>
<rect x="1113.5" y="415" width="3.5" height="2.1" fill="#c9c6bf"/>
<rect x="1109.36" y="419.5" width="2.1" height="3.5" fill="#c9c6bf"/>
<rect x="1109.36" y="373" width="2.1" height="3.5" fill="#c9c6bf"/>
<rect x="1461" y="283" width="38" height="32" fill="#2a2c30" rx="1.5"/>
<rect x="1457" y="284.67" width="3.5" height="2.1" fill="#c9c6bf"/>
<rect x="1499.5" y="284.67" width="3.5" height="2.1" fill="#c9c6bf"/>
<rect x="1463.17" y="315.5" width="2.1" height="3.5" fill="#c9c6bf"/>
<rect x="1463.17" y="279" width="2.1" height="3.5" fill="#c9c6bf"/>
<rect x="1457" y="290" width="3.5" height="2.1" fill="#c9c6bf"/>
<rect x="1499.5" y="290" width="3.5" height="2.1" fill="#c9c6bf"/>
<rect x="1469.5" y="315.5" width="2.1" height="3.5" fill="#c9c6bf"/>
<rect x="1469.5" y="279" width="2.1" height="3.5" fill="#c9c6bf"/>
<rect x="1457" y="295.33" width="3.5" height="2.1" fill="#c9c6bf"/>
<rect x="1499.5" y="295.33" width="3.5" height="2.1" fill="#c9c6bf"/>
<rect x="1475.83" y="315.5" width="2.1" height="3.5" fill="#c9c6bf"/>
<rect x="1475.83" y="279" width="2.1" height="3.5" fill="#c9c6bf"/>
<rect x="1457" y="300.67" width="3.5" height="2.1" fill="#c9c6bf"/>
<rect x="1499.5" y="300.67" width="3.5" height="2.1" fill="#c9c6bf"/>
<rect x="1482.17" y="315.5" width="2.1" height="3.5" fill="#c9c6bf"/>
<rect x="1482.17" y="279" width="2.1" height="3.5" fill="#c9c6bf"/>
<rect x="1457" y="306" width="3.5" height="2.1" fill="#c9c6bf"/>
<rect x="1499.5" y="306" width="3.5" height="2.1" fill="#c9c6bf"/>
<rect x="1488.5" y="315.5" width="2.1" height="3.5" fill="#c9c6bf"/>
<rect x="1488.5" y="279" width="2.1" height="3.5" fill="#c9c6bf"/>
<rect x="1457" y="311.33" width="3.5" height="2.1" fill="#c9c6bf"/>
<rect x="1499.5" y="311.33" width="3.5" height="2.1" fill="#c9c6bf"/>
<rect x="1494.83" y="315.5" width="2.1" height="3.5" fill="#c9c6bf"/>
<rect x="1494.83" y="279" width="2.1" height="3.5" fill="#c9c6bf"/>
<rect x="968" y="603" width="30.5" height="30" fill="#2a2c30" rx="1.5"/>
<rect x="964" y="604.5" width="3.5" height="2.1" fill="#c9c6bf"/>
<rect x="999" y="604.5" width="3.5" height="2.1" fill="#c9c6bf"/>
<rect x="969.54" y="633.5" width="2.1" height="3.5" fill="#c9c6bf"/>
<rect x="969.54" y="599" width="2.1" height="3.5" fill="#c9c6bf"/>
<rect x="964" y="609.5" width="3.5" height="2.1" fill="#c9c6bf"/>
<rect x="999" y="609.5" width="3.5" height="2.1" fill="#c9c6bf"/>
<rect x="974.62" y="633.5" width="2.1" height="3.5" fill="#c9c6bf"/>
<rect x="974.62" y="599" width="2.1" height="3.5" fill="#c9c6bf"/>
<rect x="964" y="614.5" width="3.5" height="2.1" fill="#c9c6bf"/>
<rect x="999" y="614.5" width="3.5" height="2.1" fill="#c9c6bf"/>
<rect x="979.71" y="633.5" width="2.1" height="3.5" fill="#c9c6bf"/>
<rect x="979.71" y="599" width="2.1" height="3.5" fill="#c9c6bf"/>
<rect x="964" y="619.5" width="3.5" height="2.1" fill="#c9c6bf"/>
<rect x="999" y="619.5" width="3.5" height="2.1" fill="#c9c6bf"/>
<rect x="984.79" y="633.5" width="2.1" height="3.5" fill="#c9c6bf"/>
<rect x="984.79" y="599" width="2.1" height="3.5" fill="#c9c6bf"/>
<rect x="964" y="624.5" width="3.5" height="2.1" fill="#c9c6bf"/>
<rect x="999" y="624.5" width="3.5" height="2.1" fill="#c9c6bf"/>
<rect x="989.88" y="633.5" width="2.1" height="3.5" fill="#c9c6bf"/>
<rect x="989.88" y="599" width="2.1" height="3.5" fill="#c9c6bf"/>
<rect x="964" y="629.5" width="3.5" height="2.1" fill="#c9c6bf"/>
<rect x="999" y="629.5" width="3.5" height="2.1" fill="#c9c6bf"/>
<rect x="994.96" y="633.5" width="2.1" height="3.5" fill="#c9c6bf"/>
<rect x="994.96" y="599" width="2.1" height="3.5" fill="#c9c6bf"/>
<rect x="1068.7" y="489.4" width="25.7" height="24.6" fill="#26282c" rx="1"/>
<rect x="1054" y="491" width="14.5" height="3.4" fill="#cfccc5" rx="1"/>
<rect x="1094.5" y="491" width="13.5" height="3.4" fill="#cfccc5" rx="1"/>
<rect x="1054" y="497.7" width="14.5" height="3.4" fill="#cfccc5" rx="1"/>
<rect x="1094.5" y="497.7" width="13.5" height="3.4" fill="#cfccc5" rx="1"/>
<rect x="1054" y="503.8" width="14.5" height="3.4" fill="#cfccc5" rx="1"/>
<rect x="1094.5" y="503.8" width="13.5" height="3.4" fill="#cfccc5" rx="1"/>
<rect x="1054" y="510" width="14.5" height="3.4" fill="#cfccc5" rx="1"/>
<rect x="1094.5" y="510" width="13.5" height="3.4" fill="#cfccc5" rx="1"/>
<line x1="1062" y1="486.5" x2="1092" y2="486.5" stroke="#d6d9dc" stroke-width="1.5"/>
<rect x="1044.5" y="237.5" width="29" height="17.5" fill="none" stroke="#c9ccce" stroke-width="1.1"/>
<rect x="1046" y="239" width="26" height="14.5" fill="#08090a"/>
<rect x="1048" y="253" width="6" height="13" fill="#c9c3b2" rx="1"/>
<rect x="1064" y="253" width="6" height="13" fill="#c9c3b2" rx="1"/>
<rect x="1080.5" y="237.5" width="29" height="17.5" fill="none" stroke="#c9ccce" stroke-width="1.1"/>
<rect x="1082" y="239" width="26" height="14.5" fill="#08090a"/>
<rect x="1084" y="253" width="6" height="13" fill="#c9c3b2" rx="1"/>
<rect x="1100" y="253" width="6" height="13" fill="#c9c3b2" rx="1"/>
<rect x="1056.5" y="226" width="5" height="13" fill="#c9c3b2" rx="1"/>
<rect x="1043" y="218.5" width="9" height="4" fill="#d9d9d9" rx="1.5"/>
<rect x="1300.7" y="292.6" width="12.3" height="27.9" fill="#08090a"/>
<rect x="1286" y="293.7" width="14.7" height="5.6" fill="#cfccc5"/>
<rect x="1286" y="312.5" width="14.7" height="5.8" fill="#cfccc5"/>
<rect x="1313" y="301.5" width="12.3" height="7.9" fill="#cfccc5"/>
<rect x="1193.6" y="601" width="25" height="12" fill="#0b0c0d"/>
<rect x="1196.6" y="592" width="4.5" height="8" fill="#d4d1c9" rx="1"/>
<rect x="1196.6" y="614" width="4.5" height="8" fill="#c9c3b2" rx="1"/>
<rect x="1204.6" y="592" width="4.5" height="8" fill="#d4d1c9" rx="1"/>
<rect x="1204.6" y="614" width="4.5" height="8" fill="#c9c3b2" rx="1"/>
<rect x="1212.6" y="592" width="4.5" height="8" fill="#d4d1c9" rx="1"/>
<rect x="1212.6" y="614" width="4.5" height="8" fill="#c9c3b2" rx="1"/>
<rect x="1136.6" y="598" width="25" height="12" fill="#0b0c0d"/>
<rect x="1139.6" y="589" width="4.5" height="8" fill="#d4d1c9" rx="1"/>
<rect x="1139.6" y="611" width="4.5" height="8" fill="#c9c3b2" rx="1"/>
<rect x="1147.6" y="589" width="4.5" height="8" fill="#d4d1c9" rx="1"/>
<rect x="1147.6" y="611" width="4.5" height="8" fill="#c9c3b2" rx="1"/>
<rect x="1155.6" y="589" width="4.5" height="8" fill="#d4d1c9" rx="1"/>
<rect x="1155.6" y="611" width="4.5" height="8" fill="#c9c3b2" rx="1"/>
<rect x="1088.4" y="599" width="25" height="12" fill="#0b0c0d"/>
<rect x="1091.4" y="590" width="4.5" height="8" fill="#d4d1c9" rx="1"/>
<rect x="1091.4" y="612" width="4.5" height="8" fill="#c9c3b2" rx="1"/>
<rect x="1099.4" y="590" width="4.5" height="8" fill="#d4d1c9" rx="1"/>
<rect x="1099.4" y="612" width="4.5" height="8" fill="#c9c3b2" rx="1"/>
<rect x="1107.4" y="590" width="4.5" height="8" fill="#d4d1c9" rx="1"/>
<rect x="1107.4" y="612" width="4.5" height="8" fill="#c9c3b2" rx="1"/>
<rect x="1100" y="655" width="28" height="12" fill="#1d1f22"/>
<rect x="1102" y="667" width="6" height="8" fill="#c9c3b2"/>
<rect x="1120" y="667" width="6" height="8" fill="#c9c3b2"/>
<rect x="1110" y="645" width="6" height="9" fill="#d4d1c9"/>
<rect x="1153" y="655" width="26" height="12" fill="#1d1f22"/>
<rect x="1155" y="667" width="6" height="8" fill="#c9c3b2"/>
<rect x="1171" y="667" width="6" height="8" fill="#c9c3b2"/>
<rect x="1163" y="645" width="6" height="9" fill="#d4d1c9"/>
<rect x="1220" y="603.4" width="39.6" height="16" fill="#26282b" rx="1"/>
<rect x="1222" y="605" width="7" height="12.5" fill="#c6b69a"/>
<rect x="1251" y="605" width="7" height="12.5" fill="#c6b69a"/>
<rect x="1219" y="602.5" width="41.6" height="18" fill="none" stroke="#d6d9dc" stroke-width="1.1" rx="1.5"/>
<rect x="1054.5" y="268" width="17.8" height="8.5" fill="none" stroke="#cfd2d4" stroke-width="1" rx="1.8"/>
<rect x="1056.3" y="269.6" width="14.2" height="5.3" fill="#d0c9bd" rx="1"/>
<rect x="1060.2" y="269.6" width="6.41" height="5.3" fill="#8d7a5e"/>
<rect x="1054.5" y="277" width="17.8" height="8.5" fill="none" stroke="#cfd2d4" stroke-width="1" rx="1.8"/>
<rect x="1056.3" y="278.6" width="14.2" height="5.3" fill="#d0c9bd" rx="1"/>
<rect x="1060.2" y="278.6" width="6.41" height="5.3" fill="#8d7a5e"/>
<rect x="1100" y="268" width="9" height="8.5" fill="none" stroke="#cfd2d4" stroke-width="1" rx="1.8"/>
<rect x="1101.8" y="269.6" width="5.4" height="5.3" fill="#d0c9bd" rx="1"/>
<rect x="1102.88" y="269.6" width="3.24" height="5.3" fill="#8d7a5e"/>
<rect x="1100" y="277" width="9" height="8.5" fill="none" stroke="#cfd2d4" stroke-width="1" rx="1.8"/>
<rect x="1101.8" y="278.6" width="5.4" height="5.3" fill="#d0c9bd" rx="1"/>
<rect x="1102.88" y="278.6" width="3.24" height="5.3" fill="#8d7a5e"/>
<rect x="1131" y="251" width="18" height="8.5" fill="none" stroke="#cfd2d4" stroke-width="1" rx="1.8"/>
<rect x="1132.8" y="252.6" width="14.4" height="5.3" fill="#d0c9bd" rx="1"/>
<rect x="1136.76" y="252.6" width="6.48" height="5.3" fill="#8d7a5e"/>
<rect x="1131" y="260" width="18" height="11" fill="none" stroke="#cfd2d4" stroke-width="1" rx="1.8"/>
<rect x="1132.8" y="261.6" width="14.4" height="7.8" fill="#d0c9bd" rx="1"/>
<rect x="1136.76" y="261.6" width="6.48" height="7.8" fill="#8d7a5e"/>
<rect x="1121" y="272" width="9" height="8.5" fill="none" stroke="#cfd2d4" stroke-width="1" rx="1.8"/>
<rect x="1122.8" y="273.6" width="5.4" height="5.3" fill="#d0c9bd" rx="1"/>
<rect x="1123.88" y="273.6" width="3.24" height="5.3" fill="#8d7a5e"/>
<rect x="1131" y="272" width="9" height="8.5" fill="none" stroke="#cfd2d4" stroke-width="1" rx="1.8"/>
<rect x="1132.8" y="273.6" width="5.4" height="5.3" fill="#d0c9bd" rx="1"/>
<rect x="1133.88" y="273.6" width="3.24" height="5.3" fill="#8d7a5e"/>
<rect x="1141" y="272" width="9" height="8.5" fill="none" stroke="#cfd2d4" stroke-width="1" rx="1.8"/>
<rect x="1142.8" y="273.6" width="5.4" height="5.3" fill="#d0c9bd" rx="1"/>
<rect x="1143.88" y="273.6" width="3.24" height="5.3" fill="#8d7a5e"/>
<rect x="1121" y="281" width="9" height="8.5" fill="none" stroke="#cfd2d4" stroke-width="1" rx="1.8"/>
<rect x="1122.8" y="282.6" width="5.4" height="5.3" fill="#d0c9bd" rx="1"/>
<rect x="1123.88" y="282.6" width="3.24" height="5.3" fill="#8d7a5e"/>
<rect x="1131" y="281" width="9" height="8.5" fill="none" stroke="#cfd2d4" stroke-width="1" rx="1.8"/>
<rect x="1132.8" y="282.6" width="5.4" height="5.3" fill="#d0c9bd" rx="1"/>
<rect x="1133.88" y="282.6" width="3.24" height="5.3" fill="#8d7a5e"/>
<rect x="1141" y="281" width="9" height="8.5" fill="none" stroke="#cfd2d4" stroke-width="1" rx="1.8"/>
<rect x="1142.8" y="282.6" width="5.4" height="5.3" fill="#d0c9bd" rx="1"/>
<rect x="1143.88" y="282.6" width="3.24" height="5.3" fill="#8d7a5e"/>
<rect x="1131" y="290" width="9" height="8.5" fill="none" stroke="#cfd2d4" stroke-width="1" rx="1.8"/>
<rect x="1132.8" y="291.6" width="5.4" height="5.3" fill="#d0c9bd" rx="1"/>
<rect x="1133.88" y="291.6" width="3.24" height="5.3" fill="#8d7a5e"/>
<rect x="1141" y="290" width="9" height="8.5" fill="none" stroke="#cfd2d4" stroke-width="1" rx="1.8"/>
<rect x="1142.8" y="291.6" width="5.4" height="5.3" fill="#d0c9bd" rx="1"/>
<rect x="1143.88" y="291.6" width="3.24" height="5.3" fill="#8d7a5e"/>
<rect x="1131" y="299.5" width="18.5" height="9.2" fill="none" stroke="#cfd2d4" stroke-width="1" rx="1.8"/>
<rect x="1132.8" y="301.1" width="14.9" height="6" fill="#d0c9bd" rx="1"/>
<rect x="1136.92" y="301.1" width="6.66" height="6" fill="#8d7a5e"/>
<rect x="1131" y="309.3" width="18.5" height="9.2" fill="none" stroke="#cfd2d4" stroke-width="1" rx="1.8"/>
<rect x="1132.8" y="310.9" width="14.9" height="6" fill="#d0c9bd" rx="1"/>
<rect x="1136.92" y="310.9" width="6.66" height="6" fill="#8d7a5e"/>
<rect x="1154" y="253" width="7.5" height="16" fill="none" stroke="#cfd2d4" stroke-width="1" rx="1.8"/>
<rect x="1155.6" y="254.8" width="4.3" height="12.4" fill="#d0c9bd" rx="1"/>
<rect x="1155.6" y="258.12" width="4.3" height="5.76" fill="#8d7a5e"/>
<rect x="1163" y="253" width="7.5" height="16" fill="none" stroke="#cfd2d4" stroke-width="1" rx="1.8"/>
<rect x="1164.6" y="254.8" width="4.3" height="12.4" fill="#d0c9bd" rx="1"/>
<rect x="1164.6" y="258.12" width="4.3" height="5.76" fill="#8d7a5e"/>
<rect x="1154" y="283" width="7.5" height="14" fill="none" stroke="#cfd2d4" stroke-width="1" rx="1.8"/>
<rect x="1155.6" y="284.8" width="4.3" height="10.4" fill="#d0c9bd" rx="1"/>
<rect x="1155.6" y="287.48" width="4.3" height="5.04" fill="#8d7a5e"/>
<rect x="1163" y="283" width="7.5" height="14" fill="none" stroke="#cfd2d4" stroke-width="1" rx="1.8"/>
<rect x="1164.6" y="284.8" width="4.3" height="10.4" fill="#d0c9bd" rx="1"/>
<rect x="1164.6" y="287.48" width="4.3" height="5.04" fill="#8d7a5e"/>
<rect x="1140" y="252" width="12" height="7" fill="none" stroke="#cfd2d4" stroke-width="1" rx="1.8"/>
<rect x="1141.8" y="253.6" width="8.4" height="3.8" fill="#d0c9bd" rx="1"/>
<rect x="1143.84" y="253.6" width="4.32" height="3.8" fill="#8d7a5e"/>
<rect x="1104.5" y="339" width="8.5" height="8.5" fill="none" stroke="#cfd2d4" stroke-width="1" rx="1.8"/>
<rect x="1106.3" y="340.6" width="4.9" height="5.3" fill="#d0c9bd" rx="1"/>
<rect x="1107.22" y="340.6" width="3.06" height="5.3" fill="#8d7a5e"/>
<rect x="1113.5" y="339" width="8.5" height="8.5" fill="none" stroke="#cfd2d4" stroke-width="1" rx="1.8"/>
<rect x="1115.3" y="340.6" width="4.9" height="5.3" fill="#d0c9bd" rx="1"/>
<rect x="1116.22" y="340.6" width="3.06" height="5.3" fill="#8d7a5e"/>
<rect x="1122.5" y="339" width="8.5" height="8.5" fill="none" stroke="#cfd2d4" stroke-width="1" rx="1.8"/>
<rect x="1124.3" y="340.6" width="4.9" height="5.3" fill="#d0c9bd" rx="1"/>
<rect x="1125.22" y="340.6" width="3.06" height="5.3" fill="#8d7a5e"/>
<rect x="1131.5" y="339" width="8.5" height="8.5" fill="none" stroke="#cfd2d4" stroke-width="1" rx="1.8"/>
<rect x="1133.3" y="340.6" width="4.9" height="5.3" fill="#d0c9bd" rx="1"/>
<rect x="1134.22" y="340.6" width="3.06" height="5.3" fill="#8d7a5e"/>
<rect x="1104.5" y="348.5" width="8.5" height="8.5" fill="none" stroke="#cfd2d4" stroke-width="1" rx="1.8"/>
<rect x="1106.3" y="350.1" width="4.9" height="5.3" fill="#d0c9bd" rx="1"/>
<rect x="1107.22" y="350.1" width="3.06" height="5.3" fill="#8d7a5e"/>
<rect x="1113.5" y="348.5" width="8.5" height="8.5" fill="none" stroke="#cfd2d4" stroke-width="1" rx="1.8"/>
<rect x="1115.3" y="350.1" width="4.9" height="5.3" fill="#d0c9bd" rx="1"/>
<rect x="1116.22" y="350.1" width="3.06" height="5.3" fill="#8d7a5e"/>
<rect x="1122.5" y="348.5" width="8.5" height="8.5" fill="none" stroke="#cfd2d4" stroke-width="1" rx="1.8"/>
<rect x="1124.3" y="350.1" width="4.9" height="5.3" fill="#d0c9bd" rx="1"/>
<rect x="1125.22" y="350.1" width="3.06" height="5.3" fill="#8d7a5e"/>
<rect x="1131.5" y="348.5" width="8.5" height="8.5" fill="none" stroke="#cfd2d4" stroke-width="1" rx="1.8"/>
<rect x="1133.3" y="350.1" width="4.9" height="5.3" fill="#d0c9bd" rx="1"/>
<rect x="1134.22" y="350.1" width="3.06" height="5.3" fill="#8d7a5e"/>
<rect x="1062.5" y="342" width="18.7" height="7.6" fill="none" stroke="#cfd2d4" stroke-width="1" rx="1.8"/>
<rect x="1064.3" y="343.6" width="15.1" height="4.4" fill="#d0c9bd" rx="1"/>
<rect x="1068.48" y="343.6" width="6.73" height="4.4" fill="#8d7a5e"/>
<rect x="1062.5" y="350.1" width="18.7" height="7.6" fill="none" stroke="#cfd2d4" stroke-width="1" rx="1.8"/>
<rect x="1064.3" y="351.7" width="15.1" height="4.4" fill="#d0c9bd" rx="1"/>
<rect x="1068.48" y="351.7" width="6.73" height="4.4" fill="#8d7a5e"/>
<rect x="1062.5" y="358.2" width="18.7" height="7.6" fill="none" stroke="#cfd2d4" stroke-width="1" rx="1.8"/>
<rect x="1064.3" y="359.8" width="15.1" height="4.4" fill="#d0c9bd" rx="1"/>
<rect x="1068.48" y="359.8" width="6.73" height="4.4" fill="#8d7a5e"/>
<rect x="1038.4" y="367.3" width="19.6" height="7.4" fill="none" stroke="#cfd2d4" stroke-width="1" rx="1.8"/>
<rect x="1040.2" y="368.9" width="16" height="4.2" fill="#d0c9bd" rx="1"/>
<rect x="1044.67" y="368.9" width="7.06" height="4.2" fill="#8d7a5e"/>
<rect x="1072.3" y="323" width="11.7" height="15" fill="#1d1f22" rx="1"/>
<rect x="1084" y="324" width="5" height="2.8" fill="#cfccc5" rx="1"/>
<rect x="1084" y="329.5" width="5" height="2.8" fill="#cfccc5" rx="1"/>
<rect x="1084" y="335" width="5" height="2.8" fill="#cfccc5" rx="1"/>
<rect x="1068" y="321.5" width="6" height="3" fill="#d6c79e"/>
<rect x="1157" y="274.7" width="5.6" height="10" fill="none" stroke="#cfd2d4" stroke-width="1" rx="1.8"/>
<rect x="1158.6" y="276.5" width="2.4" height="6.4" fill="#d0c9bd" rx="1"/>
<rect x="1158.6" y="277.9" width="2.4" height="3.6" fill="#8d7a5e"/>
<rect x="1165.7" y="274.7" width="5.6" height="10" fill="none" stroke="#cfd2d4" stroke-width="1" rx="1.8"/>
<rect x="1167.3" y="276.5" width="2.4" height="6.4" fill="#d0c9bd" rx="1"/>
<rect x="1167.3" y="277.9" width="2.4" height="3.6" fill="#8d7a5e"/>
<rect x="1201.4" y="290.4" width="8" height="27" fill="none" stroke="#cfd2d4" stroke-width="1" rx="1.8"/>
<rect x="1203" y="292.2" width="4.8" height="23.4" fill="#d0c9bd" rx="1"/>
<rect x="1203" y="299.04" width="4.8" height="9.72" fill="#8d7a5e"/>
<rect x="1212.6" y="290.4" width="8" height="27" fill="none" stroke="#cfd2d4" stroke-width="1" rx="1.8"/>
<rect x="1214.2" y="292.2" width="4.8" height="23.4" fill="#d0c9bd" rx="1"/>
<rect x="1214.2" y="299.04" width="4.8" height="9.72" fill="#8d7a5e"/>
<rect x="1226" y="290.4" width="8.9" height="27" fill="none" stroke="#cfd2d4" stroke-width="1" rx="1.8"/>
<rect x="1227.6" y="292.2" width="5.7" height="23.4" fill="#d0c9bd" rx="1"/>
<rect x="1227.6" y="299.04" width="5.7" height="9.72" fill="#8d7a5e"/>
<rect x="1238.2" y="290.4" width="8" height="27" fill="none" stroke="#cfd2d4" stroke-width="1" rx="1.8"/>
<rect x="1239.8" y="292.2" width="4.8" height="23.4" fill="#d0c9bd" rx="1"/>
<rect x="1239.8" y="299.04" width="4.8" height="9.72" fill="#8d7a5e"/>
<rect x="1251.6" y="300.4" width="10" height="19" fill="none" stroke="#cfd2d4" stroke-width="1" rx="1.8"/>
<rect x="1253.2" y="302.2" width="6.8" height="15.4" fill="#d0c9bd" rx="1"/>
<rect x="1253.2" y="306.48" width="6.8" height="6.84" fill="#8d7a5e"/>
<rect x="1261.7" y="292.6" width="20" height="9" fill="none" stroke="#cfd2d4" stroke-width="1" rx="1.8"/>
<rect x="1263.5" y="294.2" width="16.4" height="5.8" fill="#d0c9bd" rx="1"/>
<rect x="1268.1" y="294.2" width="7.2" height="5.8" fill="#8d7a5e"/>
<rect x="1261.7" y="309.4" width="20" height="10" fill="none" stroke="#cfd2d4" stroke-width="1" rx="1.8"/>
<rect x="1263.5" y="311" width="16.4" height="6.8" fill="#d0c9bd" rx="1"/>
<rect x="1268.1" y="311" width="7.2" height="6.8" fill="#8d7a5e"/>
<rect x="1038" y="380" width="20" height="8" fill="none" stroke="#cfd2d4" stroke-width="1" rx="1.8"/>
<rect x="1039.8" y="381.6" width="16.4" height="4.8" fill="#d0c9bd" rx="1"/>
<rect x="1044.4" y="381.6" width="7.2" height="4.8" fill="#8d7a5e"/>
<rect x="1038.4" y="395.2" width="9.5" height="17" fill="none" stroke="#cfd2d4" stroke-width="1" rx="1.8"/>
<rect x="1040" y="397" width="6.3" height="13.4" fill="#d0c9bd" rx="1"/>
<rect x="1040" y="400.64" width="6.3" height="6.12" fill="#8d7a5e"/>
<rect x="1048.7" y="395.2" width="9.5" height="17" fill="none" stroke="#cfd2d4" stroke-width="1" rx="1.8"/>
<rect x="1050.3" y="397" width="6.3" height="13.4" fill="#d0c9bd" rx="1"/>
<rect x="1050.3" y="400.64" width="6.3" height="6.12" fill="#8d7a5e"/>
<rect x="1038.4" y="413" width="19.6" height="9" fill="none" stroke="#cfd2d4" stroke-width="1" rx="1.8"/>
<rect x="1040.2" y="414.6" width="16" height="5.8" fill="#d0c9bd" rx="1"/>
<rect x="1044.67" y="414.6" width="7.06" height="5.8" fill="#8d7a5e"/>
<rect x="1038.4" y="422.6" width="19.6" height="9" fill="none" stroke="#cfd2d4" stroke-width="1" rx="1.8"/>
<rect x="1040.2" y="424.2" width="16" height="5.8" fill="#d0c9bd" rx="1"/>
<rect x="1044.67" y="424.2" width="7.06" height="5.8" fill="#8d7a5e"/>
<rect x="1018" y="408" width="9.6" height="9.6" fill="none" stroke="#cfd2d4" stroke-width="1" rx="1.8"/>
<rect x="1019.8" y="409.6" width="6" height="6.4" fill="#d0c9bd" rx="1"/>
<rect x="1021.07" y="409.6" width="3.46" height="6.4" fill="#8d7a5e"/>
<rect x="1028" y="408" width="9.6" height="9.6" fill="none" stroke="#cfd2d4" stroke-width="1" rx="1.8"/>
<rect x="1029.8" y="409.6" width="6" height="6.4" fill="#d0c9bd" rx="1"/>
<rect x="1031.07" y="409.6" width="3.46" height="6.4" fill="#8d7a5e"/>
<rect x="1018" y="418" width="9.6" height="9.6" fill="none" stroke="#cfd2d4" stroke-width="1" rx="1.8"/>
<rect x="1019.8" y="419.6" width="6" height="6.4" fill="#d0c9bd" rx="1"/>
<rect x="1021.07" y="419.6" width="3.46" height="6.4" fill="#8d7a5e"/>
<rect x="1028" y="418" width="9.6" height="9.6" fill="none" stroke="#cfd2d4" stroke-width="1" rx="1.8"/>
<rect x="1029.8" y="419.6" width="6" height="6.4" fill="#d0c9bd" rx="1"/>
<rect x="1031.07" y="419.6" width="3.46" height="6.4" fill="#8d7a5e"/>
<rect x="1018" y="428" width="9.6" height="9.6" fill="none" stroke="#cfd2d4" stroke-width="1" rx="1.8"/>
<rect x="1019.8" y="429.6" width="6" height="6.4" fill="#d0c9bd" rx="1"/>
<rect x="1021.07" y="429.6" width="3.46" height="6.4" fill="#8d7a5e"/>
<rect x="1028" y="428" width="9.6" height="9.6" fill="none" stroke="#cfd2d4" stroke-width="1" rx="1.8"/>
<rect x="1029.8" y="429.6" width="6" height="6.4" fill="#d0c9bd" rx="1"/>
<rect x="1031.07" y="429.6" width="3.46" height="6.4" fill="#8d7a5e"/>
<rect x="1124.5" y="381" width="19" height="7.4" fill="none" stroke="#cfd2d4" stroke-width="1" rx="1.8"/>
<rect x="1126.3" y="382.6" width="15.4" height="4.2" fill="#d0c9bd" rx="1"/>
<rect x="1130.58" y="382.6" width="6.84" height="4.2" fill="#8d7a5e"/>
<rect x="1124.5" y="389.4" width="19" height="7.4" fill="none" stroke="#cfd2d4" stroke-width="1" rx="1.8"/>
<rect x="1126.3" y="391" width="15.4" height="4.2" fill="#d0c9bd" rx="1"/>
<rect x="1130.58" y="391" width="6.84" height="4.2" fill="#8d7a5e"/>
<rect x="1124.5" y="397.8" width="19" height="7.4" fill="none" stroke="#cfd2d4" stroke-width="1" rx="1.8"/>
<rect x="1126.3" y="399.4" width="15.4" height="4.2" fill="#d0c9bd" rx="1"/>
<rect x="1130.58" y="399.4" width="6.84" height="4.2" fill="#8d7a5e"/>
<rect x="1124.5" y="406.2" width="19" height="7.4" fill="none" stroke="#cfd2d4" stroke-width="1" rx="1.8"/>
<rect x="1126.3" y="407.8" width="15.4" height="4.2" fill="#d0c9bd" rx="1"/>
<rect x="1130.58" y="407.8" width="6.84" height="4.2" fill="#8d7a5e"/>
<rect x="1124.5" y="414.6" width="19" height="7.4" fill="none" stroke="#cfd2d4" stroke-width="1" rx="1.8"/>
<rect x="1126.3" y="416.2" width="15.4" height="4.2" fill="#d0c9bd" rx="1"/>
<rect x="1130.58" y="416.2" width="6.84" height="4.2" fill="#8d7a5e"/>
<rect x="1124.5" y="423" width="19" height="7.4" fill="none" stroke="#cfd2d4" stroke-width="1" rx="1.8"/>
<rect x="1126.3" y="424.6" width="15.4" height="4.2" fill="#d0c9bd" rx="1"/>
<rect x="1130.58" y="424.6" width="6.84" height="4.2" fill="#8d7a5e"/>
<rect x="1045.5" y="437" width="7.6" height="20.5" fill="none" stroke="#cfd2d4" stroke-width="1" rx="1.8"/>
<rect x="1047.1" y="438.8" width="4.4" height="16.9" fill="#d0c9bd" rx="1"/>
<rect x="1047.1" y="443.56" width="4.4" height="7.38" fill="#8d7a5e"/>
<rect x="1053.55" y="437" width="7.6" height="20.5" fill="none" stroke="#cfd2d4" stroke-width="1" rx="1.8"/>
<rect x="1055.15" y="438.8" width="4.4" height="16.9" fill="#d0c9bd" rx="1"/>
<rect x="1055.15" y="443.56" width="4.4" height="7.38" fill="#8d7a5e"/>
<rect x="1061.6" y="437" width="7.6" height="20.5" fill="none" stroke="#cfd2d4" stroke-width="1" rx="1.8"/>
<rect x="1063.2" y="438.8" width="4.4" height="16.9" fill="#d0c9bd" rx="1"/>
<rect x="1063.2" y="443.56" width="4.4" height="7.38" fill="#8d7a5e"/>
<rect x="1069.65" y="437" width="7.6" height="20.5" fill="none" stroke="#cfd2d4" stroke-width="1" rx="1.8"/>
<rect x="1071.25" y="438.8" width="4.4" height="16.9" fill="#d0c9bd" rx="1"/>
<rect x="1071.25" y="443.56" width="4.4" height="7.38" fill="#8d7a5e"/>
<rect x="1077.7" y="437" width="7.6" height="20.5" fill="none" stroke="#cfd2d4" stroke-width="1" rx="1.8"/>
<rect x="1079.3" y="438.8" width="4.4" height="16.9" fill="#d0c9bd" rx="1"/>
<rect x="1079.3" y="443.56" width="4.4" height="7.38" fill="#8d7a5e"/>
<rect x="1085.75" y="437" width="7.6" height="20.5" fill="none" stroke="#cfd2d4" stroke-width="1" rx="1.8"/>
<rect x="1087.35" y="438.8" width="4.4" height="16.9" fill="#d0c9bd" rx="1"/>
<rect x="1087.35" y="443.56" width="4.4" height="7.38" fill="#8d7a5e"/>
<rect x="1099" y="437" width="7.4" height="20.5" fill="none" stroke="#cfd2d4" stroke-width="1" rx="1.8"/>
<rect x="1100.6" y="438.8" width="4.2" height="16.9" fill="#d0c9bd" rx="1"/>
<rect x="1100.6" y="443.56" width="4.2" height="7.38" fill="#8d7a5e"/>
<rect x="1106.8" y="437" width="7.4" height="20.5" fill="none" stroke="#cfd2d4" stroke-width="1" rx="1.8"/>
<rect x="1108.4" y="438.8" width="4.2" height="16.9" fill="#d0c9bd" rx="1"/>
<rect x="1108.4" y="443.56" width="4.2" height="7.38" fill="#8d7a5e"/>
<rect x="1114.6" y="437" width="7.4" height="20.5" fill="none" stroke="#cfd2d4" stroke-width="1" rx="1.8"/>
<rect x="1116.2" y="438.8" width="4.2" height="16.9" fill="#d0c9bd" rx="1"/>
<rect x="1116.2" y="443.56" width="4.2" height="7.38" fill="#8d7a5e"/>
<rect x="1122.4" y="437" width="7.4" height="20.5" fill="none" stroke="#cfd2d4" stroke-width="1" rx="1.8"/>
<rect x="1124" y="438.8" width="4.2" height="16.9" fill="#d0c9bd" rx="1"/>
<rect x="1124" y="443.56" width="4.2" height="7.38" fill="#8d7a5e"/>
<rect x="1018.75" y="451.4" width="18.75" height="8.2" fill="none" stroke="#cfd2d4" stroke-width="1" rx="1.8"/>
<rect x="1020.55" y="453" width="15.15" height="5" fill="#d0c9bd" rx="1"/>
<rect x="1024.75" y="453" width="6.75" height="5" fill="#8d7a5e"/>
<rect x="1018.75" y="460.2" width="18.75" height="8.2" fill="none" stroke="#cfd2d4" stroke-width="1" rx="1.8"/>
<rect x="1020.55" y="461.8" width="15.15" height="5" fill="#d0c9bd" rx="1"/>
<rect x="1024.75" y="461.8" width="6.75" height="5" fill="#8d7a5e"/>
<rect x="1029.5" y="472" width="18.7" height="9.6" fill="none" stroke="#cfd2d4" stroke-width="1" rx="1.8"/>
<rect x="1031.3" y="473.6" width="15.1" height="6.4" fill="#d0c9bd" rx="1"/>
<rect x="1035.48" y="473.6" width="6.73" height="6.4" fill="#8d7a5e"/>
<rect x="1029.5" y="482.3" width="18.7" height="9.6" fill="none" stroke="#cfd2d4" stroke-width="1" rx="1.8"/>
<rect x="1031.3" y="483.9" width="15.1" height="6.4" fill="#d0c9bd" rx="1"/>
<rect x="1035.48" y="483.9" width="6.73" height="6.4" fill="#8d7a5e"/>
<rect x="1029.5" y="492.6" width="18.7" height="9.6" fill="none" stroke="#cfd2d4" stroke-width="1" rx="1.8"/>
<rect x="1031.3" y="494.2" width="15.1" height="6.4" fill="#d0c9bd" rx="1"/>
<rect x="1035.48" y="494.2" width="6.73" height="6.4" fill="#8d7a5e"/>
<rect x="1029.5" y="502.9" width="18.7" height="9.6" fill="none" stroke="#cfd2d4" stroke-width="1" rx="1.8"/>
<rect x="1031.3" y="504.5" width="15.1" height="6.4" fill="#d0c9bd" rx="1"/>
<rect x="1035.48" y="504.5" width="6.73" height="6.4" fill="#8d7a5e"/>
<rect x="1029.5" y="513.2" width="18.7" height="9.6" fill="none" stroke="#cfd2d4" stroke-width="1" rx="1.8"/>
<rect x="1031.3" y="514.8" width="15.1" height="6.4" fill="#d0c9bd" rx="1"/>
<rect x="1035.48" y="514.8" width="6.73" height="6.4" fill="#8d7a5e"/>
<rect x="1029.5" y="523.5" width="18.7" height="9.6" fill="none" stroke="#cfd2d4" stroke-width="1" rx="1.8"/>
<rect x="1031.3" y="525.1" width="15.1" height="6.4" fill="#d0c9bd" rx="1"/>
<rect x="1035.48" y="525.1" width="6.73" height="6.4" fill="#8d7a5e"/>
<rect x="1111.6" y="473.75" width="18.8" height="9.9" fill="none" stroke="#cfd2d4" stroke-width="1" rx="1.8"/>
<rect x="1113.4" y="475.35" width="15.2" height="6.7" fill="#d0c9bd" rx="1"/>
<rect x="1117.62" y="475.35" width="6.77" height="6.7" fill="#8d7a5e"/>
<rect x="1111.6" y="484.35" width="18.8" height="9.9" fill="none" stroke="#cfd2d4" stroke-width="1" rx="1.8"/>
<rect x="1113.4" y="485.95" width="15.2" height="6.7" fill="#d0c9bd" rx="1"/>
<rect x="1117.62" y="485.95" width="6.77" height="6.7" fill="#8d7a5e"/>
<rect x="1111.6" y="494.95" width="18.8" height="9.9" fill="none" stroke="#cfd2d4" stroke-width="1" rx="1.8"/>
<rect x="1113.4" y="496.55" width="15.2" height="6.7" fill="#d0c9bd" rx="1"/>
<rect x="1117.62" y="496.55" width="6.77" height="6.7" fill="#8d7a5e"/>
<rect x="1111.6" y="505.55" width="18.8" height="9.9" fill="none" stroke="#cfd2d4" stroke-width="1" rx="1.8"/>
<rect x="1113.4" y="507.15" width="15.2" height="6.7" fill="#d0c9bd" rx="1"/>
<rect x="1117.62" y="507.15" width="6.77" height="6.7" fill="#8d7a5e"/>
<rect x="1111.6" y="516.15" width="18.8" height="9.9" fill="none" stroke="#cfd2d4" stroke-width="1" rx="1.8"/>
<rect x="1113.4" y="517.75" width="15.2" height="6.7" fill="#d0c9bd" rx="1"/>
<rect x="1117.62" y="517.75" width="6.77" height="6.7" fill="#8d7a5e"/>
<rect x="1111.6" y="526.75" width="18.8" height="9.9" fill="none" stroke="#cfd2d4" stroke-width="1" rx="1.8"/>
<rect x="1113.4" y="528.35" width="15.2" height="6.7" fill="#d0c9bd" rx="1"/>
<rect x="1117.62" y="528.35" width="6.77" height="6.7" fill="#8d7a5e"/>
<rect x="1138.4" y="483.6" width="9.2" height="9.4" fill="none" stroke="#cfd2d4" stroke-width="1" rx="1.8"/>
<rect x="1140.2" y="485.2" width="5.6" height="6.2" fill="#d0c9bd" rx="1"/>
<rect x="1141.34" y="485.2" width="3.31" height="6.2" fill="#8d7a5e"/>
<rect x="1148" y="483.6" width="9.2" height="9.4" fill="none" stroke="#cfd2d4" stroke-width="1" rx="1.8"/>
<rect x="1149.8" y="485.2" width="5.6" height="6.2" fill="#d0c9bd" rx="1"/>
<rect x="1150.94" y="485.2" width="3.31" height="6.2" fill="#8d7a5e"/>
<rect x="1138.4" y="493.5" width="9.2" height="9.4" fill="none" stroke="#cfd2d4" stroke-width="1" rx="1.8"/>
<rect x="1140.2" y="495.1" width="5.6" height="6.2" fill="#d0c9bd" rx="1"/>
<rect x="1141.34" y="495.1" width="3.31" height="6.2" fill="#8d7a5e"/>
<rect x="1148" y="493.5" width="9.2" height="9.4" fill="none" stroke="#cfd2d4" stroke-width="1" rx="1.8"/>
<rect x="1149.8" y="495.1" width="5.6" height="6.2" fill="#d0c9bd" rx="1"/>
<rect x="1150.94" y="495.1" width="3.31" height="6.2" fill="#8d7a5e"/>
<rect x="1138.4" y="516.6" width="18.6" height="8" fill="none" stroke="#cfd2d4" stroke-width="1" rx="1.8"/>
<rect x="1140.2" y="518.2" width="15" height="4.8" fill="#d0c9bd" rx="1"/>
<rect x="1144.35" y="518.2" width="6.7" height="4.8" fill="#8d7a5e"/>
<rect x="1052.7" y="534.5" width="18.7" height="9.5" fill="none" stroke="#cfd2d4" stroke-width="1" rx="1.8"/>
<rect x="1054.5" y="536.1" width="15.1" height="6.3" fill="#d0c9bd" rx="1"/>
<rect x="1058.68" y="536.1" width="6.73" height="6.3" fill="#8d7a5e"/>
<rect x="1052.7" y="544.5" width="18.7" height="9.5" fill="none" stroke="#cfd2d4" stroke-width="1" rx="1.8"/>
<rect x="1054.5" y="546.1" width="15.1" height="6.3" fill="#d0c9bd" rx="1"/>
<rect x="1058.68" y="546.1" width="6.73" height="6.3" fill="#8d7a5e"/>
<rect x="1009.8" y="546" width="7.2" height="18.8" fill="none" stroke="#cfd2d4" stroke-width="1" rx="1.8"/>
<rect x="1011.4" y="547.8" width="4" height="15.2" fill="#d0c9bd" rx="1"/>
<rect x="1011.4" y="552.02" width="4" height="6.77" fill="#8d7a5e"/>
<rect x="1000" y="571" width="8.5" height="19.7" fill="none" stroke="#cfd2d4" stroke-width="1" rx="1.8"/>
<rect x="1001.6" y="572.8" width="5.3" height="16.1" fill="#d0c9bd" rx="1"/>
<rect x="1001.6" y="577.3" width="5.3" height="7.09" fill="#8d7a5e"/>
<rect x="1009.5" y="571" width="8.5" height="19.7" fill="none" stroke="#cfd2d4" stroke-width="1" rx="1.8"/>
<rect x="1011.1" y="572.8" width="5.3" height="16.1" fill="#d0c9bd" rx="1"/>
<rect x="1011.1" y="577.3" width="5.3" height="7.09" fill="#8d7a5e"/>
<rect x="1008" y="604" width="19.7" height="8" fill="none" stroke="#cfd2d4" stroke-width="1" rx="1.8"/>
<rect x="1009.8" y="605.6" width="16.1" height="4.8" fill="#d0c9bd" rx="1"/>
<rect x="1014.3" y="605.6" width="7.09" height="4.8" fill="#8d7a5e"/>
<rect x="1008" y="612.5" width="19.7" height="8" fill="none" stroke="#cfd2d4" stroke-width="1" rx="1.8"/>
<rect x="1009.8" y="614.1" width="16.1" height="4.8" fill="#d0c9bd" rx="1"/>
<rect x="1014.3" y="614.1" width="7.09" height="4.8" fill="#8d7a5e"/>
<rect x="1008" y="621" width="19.7" height="8" fill="none" stroke="#cfd2d4" stroke-width="1" rx="1.8"/>
<rect x="1009.8" y="622.6" width="16.1" height="4.8" fill="#d0c9bd" rx="1"/>
<rect x="1014.3" y="622.6" width="7.09" height="4.8" fill="#8d7a5e"/>
<rect x="1008" y="629.5" width="19.7" height="8" fill="none" stroke="#cfd2d4" stroke-width="1" rx="1.8"/>
<rect x="1009.8" y="631.1" width="16.1" height="4.8" fill="#d0c9bd" rx="1"/>
<rect x="1014.3" y="631.1" width="7.09" height="4.8" fill="#8d7a5e"/>
<rect x="1008" y="638" width="19.7" height="8" fill="none" stroke="#cfd2d4" stroke-width="1" rx="1.8"/>
<rect x="1009.8" y="639.6" width="16.1" height="4.8" fill="#d0c9bd" rx="1"/>
<rect x="1014.3" y="639.6" width="7.09" height="4.8" fill="#8d7a5e"/>
<rect x="1028.6" y="612" width="8" height="17" fill="none" stroke="#cfd2d4" stroke-width="1" rx="1.8"/>
<rect x="1030.2" y="613.8" width="4.8" height="13.4" fill="#d0c9bd" rx="1"/>
<rect x="1030.2" y="617.44" width="4.8" height="6.12" fill="#8d7a5e"/>
<rect x="1039.6" y="612" width="8" height="17" fill="none" stroke="#cfd2d4" stroke-width="1" rx="1.8"/>
<rect x="1041.2" y="613.8" width="4.8" height="13.4" fill="#d0c9bd" rx="1"/>
<rect x="1041.2" y="617.44" width="4.8" height="6.12" fill="#8d7a5e"/>
<rect x="1016" y="649" width="16" height="9" fill="none" stroke="#cfd2d4" stroke-width="1" rx="1.8"/>
<rect x="1017.8" y="650.6" width="12.4" height="5.8" fill="#d0c9bd" rx="1"/>
<rect x="1021.12" y="650.6" width="5.76" height="5.8" fill="#8d7a5e"/>
<rect x="1033" y="649" width="7.6" height="19" fill="none" stroke="#cfd2d4" stroke-width="1" rx="1.8"/>
<rect x="1034.6" y="650.8" width="4.4" height="15.4" fill="#d0c9bd" rx="1"/>
<rect x="1034.6" y="655.08" width="4.4" height="6.84" fill="#8d7a5e"/>
<rect x="1041.4" y="649" width="7.6" height="19" fill="none" stroke="#cfd2d4" stroke-width="1" rx="1.8"/>
<rect x="1043" y="650.8" width="4.4" height="15.4" fill="#d0c9bd" rx="1"/>
<rect x="1043" y="655.08" width="4.4" height="6.84" fill="#8d7a5e"/>
<rect x="1134" y="559.5" width="19.6" height="7.6" fill="none" stroke="#cfd2d4" stroke-width="1" rx="1.8"/>
<rect x="1135.8" y="561.1" width="16" height="4.4" fill="#d0c9bd" rx="1"/>
<rect x="1140.27" y="561.1" width="7.06" height="4.4" fill="#8d7a5e"/>
<rect x="1134" y="567.6" width="19.6" height="7.6" fill="none" stroke="#cfd2d4" stroke-width="1" rx="1.8"/>
<rect x="1135.8" y="569.2" width="16" height="4.4" fill="#d0c9bd" rx="1"/>
<rect x="1140.27" y="569.2" width="7.06" height="4.4" fill="#8d7a5e"/>
<rect x="1134" y="575.7" width="19.6" height="7.6" fill="none" stroke="#cfd2d4" stroke-width="1" rx="1.8"/>
<rect x="1135.8" y="577.3" width="16" height="4.4" fill="#d0c9bd" rx="1"/>
<rect x="1140.27" y="577.3" width="7.06" height="4.4" fill="#8d7a5e"/>
<rect x="1136.6" y="625.5" width="7.4" height="18.8" fill="none" stroke="#cfd2d4" stroke-width="1" rx="1.8"/>
<rect x="1138.2" y="627.3" width="4.2" height="15.2" fill="#d0c9bd" rx="1"/>
<rect x="1138.2" y="631.52" width="4.2" height="6.77" fill="#8d7a5e"/>
<rect x="1144.5" y="625.5" width="7.4" height="18.8" fill="none" stroke="#cfd2d4" stroke-width="1" rx="1.8"/>
<rect x="1146.1" y="627.3" width="4.2" height="15.2" fill="#d0c9bd" rx="1"/>
<rect x="1146.1" y="631.52" width="4.2" height="6.77" fill="#8d7a5e"/>
<rect x="1152.4" y="625.5" width="7.4" height="18.8" fill="none" stroke="#cfd2d4" stroke-width="1" rx="1.8"/>
<rect x="1154" y="627.3" width="4.2" height="15.2" fill="#d0c9bd" rx="1"/>
<rect x="1154" y="631.52" width="4.2" height="6.77" fill="#8d7a5e"/>
<rect x="1088.4" y="626.4" width="5.6" height="18" fill="none" stroke="#cfd2d4" stroke-width="1" rx="1.8"/>
<rect x="1090" y="628.2" width="2.4" height="14.4" fill="#d0c9bd" rx="1"/>
<rect x="1090" y="632.16" width="2.4" height="6.48" fill="#8d7a5e"/>
<rect x="1094.5" y="626.4" width="5.6" height="18" fill="none" stroke="#cfd2d4" stroke-width="1" rx="1.8"/>
<rect x="1096.1" y="628.2" width="2.4" height="14.4" fill="#d0c9bd" rx="1"/>
<rect x="1096.1" y="632.16" width="2.4" height="6.48" fill="#8d7a5e"/>
<rect x="953" y="546" width="19.7" height="9" fill="none" stroke="#cfd2d4" stroke-width="1" rx="1.8"/>
<rect x="954.8" y="547.6" width="16.1" height="5.8" fill="#d0c9bd" rx="1"/>
<rect x="959.3" y="547.6" width="7.09" height="5.8" fill="#8d7a5e"/>
<rect x="973.6" y="557" width="17.8" height="8" fill="none" stroke="#cfd2d4" stroke-width="1" rx="1.8"/>
<rect x="975.4" y="558.6" width="14.2" height="4.8" fill="#d0c9bd" rx="1"/>
<rect x="979.3" y="558.6" width="6.41" height="4.8" fill="#8d7a5e"/>
<rect x="946.8" y="572" width="17.8" height="9.2" fill="none" stroke="#cfd2d4" stroke-width="1" rx="1.8"/>
<rect x="948.6" y="573.6" width="14.2" height="6" fill="#d0c9bd" rx="1"/>
<rect x="952.5" y="573.6" width="6.41" height="6" fill="#8d7a5e"/>
<rect x="946.8" y="581.8" width="17.8" height="9.2" fill="none" stroke="#cfd2d4" stroke-width="1" rx="1.8"/>
<rect x="948.6" y="583.4" width="14.2" height="6" fill="#d0c9bd" rx="1"/>
<rect x="952.5" y="583.4" width="6.41" height="6" fill="#8d7a5e"/>
<rect x="964.6" y="572" width="7.8" height="9.2" fill="none" stroke="#cfd2d4" stroke-width="1" rx="1.8"/>
<rect x="966.4" y="573.6" width="4.2" height="6" fill="#d0c9bd" rx="1"/>
<rect x="967.1" y="573.6" width="2.81" height="6" fill="#8d7a5e"/>
<rect x="972.6" y="572" width="7.8" height="9.2" fill="none" stroke="#cfd2d4" stroke-width="1" rx="1.8"/>
<rect x="974.4" y="573.6" width="4.2" height="6" fill="#d0c9bd" rx="1"/>
<rect x="975.1" y="573.6" width="2.81" height="6" fill="#8d7a5e"/>
<rect x="980.6" y="572" width="7.8" height="9.2" fill="none" stroke="#cfd2d4" stroke-width="1" rx="1.8"/>
<rect x="982.4" y="573.6" width="4.2" height="6" fill="#d0c9bd" rx="1"/>
<rect x="983.1" y="573.6" width="2.81" height="6" fill="#8d7a5e"/>
<rect x="964.6" y="581.5" width="7.8" height="9.2" fill="none" stroke="#cfd2d4" stroke-width="1" rx="1.8"/>
<rect x="966.4" y="583.1" width="4.2" height="6" fill="#d0c9bd" rx="1"/>
<rect x="967.1" y="583.1" width="2.81" height="6" fill="#8d7a5e"/>
<rect x="972.6" y="581.5" width="7.8" height="9.2" fill="none" stroke="#cfd2d4" stroke-width="1" rx="1.8"/>
<rect x="974.4" y="583.1" width="4.2" height="6" fill="#d0c9bd" rx="1"/>
<rect x="975.1" y="583.1" width="2.81" height="6" fill="#8d7a5e"/>
<rect x="980.6" y="581.5" width="7.8" height="9.2" fill="none" stroke="#cfd2d4" stroke-width="1" rx="1.8"/>
<rect x="982.4" y="583.1" width="4.2" height="6" fill="#d0c9bd" rx="1"/>
<rect x="983.1" y="583.1" width="2.81" height="6" fill="#8d7a5e"/>
<rect x="993" y="572" width="7.6" height="19" fill="none" stroke="#cfd2d4" stroke-width="1" rx="1.8"/>
<rect x="994.6" y="573.8" width="4.4" height="15.4" fill="#d0c9bd" rx="1"/>
<rect x="994.6" y="578.08" width="4.4" height="6.84" fill="#8d7a5e"/>
<rect x="1001.1" y="572" width="7.6" height="19" fill="none" stroke="#cfd2d4" stroke-width="1" rx="1.8"/>
<rect x="1002.7" y="573.8" width="4.4" height="15.4" fill="#d0c9bd" rx="1"/>
<rect x="1002.7" y="578.08" width="4.4" height="6.84" fill="#8d7a5e"/>
<rect x="1009.2" y="572" width="7.6" height="19" fill="none" stroke="#cfd2d4" stroke-width="1" rx="1.8"/>
<rect x="1010.8" y="573.8" width="4.4" height="15.4" fill="#d0c9bd" rx="1"/>
<rect x="1010.8" y="578.08" width="4.4" height="6.84" fill="#8d7a5e"/>
<rect x="938.75" y="591.8" width="18.7" height="8" fill="none" stroke="#cfd2d4" stroke-width="1" rx="1.8"/>
<rect x="940.55" y="593.4" width="15.1" height="4.8" fill="#d0c9bd" rx="1"/>
<rect x="944.73" y="593.4" width="6.73" height="4.8" fill="#8d7a5e"/>
<rect x="938.75" y="600.4" width="18.7" height="8" fill="none" stroke="#cfd2d4" stroke-width="1" rx="1.8"/>
<rect x="940.55" y="602" width="15.1" height="4.8" fill="#d0c9bd" rx="1"/>
<rect x="944.73" y="602" width="6.73" height="4.8" fill="#8d7a5e"/>
<rect x="938.75" y="609" width="18.7" height="8" fill="none" stroke="#cfd2d4" stroke-width="1" rx="1.8"/>
<rect x="940.55" y="610.6" width="15.1" height="4.8" fill="#d0c9bd" rx="1"/>
<rect x="944.73" y="610.6" width="6.73" height="4.8" fill="#8d7a5e"/>
<rect x="938.75" y="617.6" width="18.7" height="8" fill="none" stroke="#cfd2d4" stroke-width="1" rx="1.8"/>
<rect x="940.55" y="619.2" width="15.1" height="4.8" fill="#d0c9bd" rx="1"/>
<rect x="944.73" y="619.2" width="6.73" height="4.8" fill="#8d7a5e"/>
<rect x="938.75" y="626.2" width="18.7" height="8" fill="none" stroke="#cfd2d4" stroke-width="1" rx="1.8"/>
<rect x="940.55" y="627.8" width="15.1" height="4.8" fill="#d0c9bd" rx="1"/>
<rect x="944.73" y="627.8" width="6.73" height="4.8" fill="#8d7a5e"/>
<rect x="961" y="642.7" width="9" height="20" fill="none" stroke="#cfd2d4" stroke-width="1" rx="1.8"/>
<rect x="962.6" y="644.5" width="5.8" height="16.4" fill="#d0c9bd" rx="1"/>
<rect x="962.6" y="649.1" width="5.8" height="7.2" fill="#8d7a5e"/>
<rect x="988.75" y="642.7" width="9" height="20" fill="none" stroke="#cfd2d4" stroke-width="1" rx="1.8"/>
<rect x="990.35" y="644.5" width="5.8" height="16.4" fill="#d0c9bd" rx="1"/>
<rect x="990.35" y="649.1" width="5.8" height="7.2" fill="#8d7a5e"/>
<rect x="965.5" y="671" width="9.9" height="19" fill="none" stroke="#cfd2d4" stroke-width="1" rx="1.8"/>
<rect x="967.1" y="672.8" width="6.7" height="15.4" fill="#d0c9bd" rx="1"/>
<rect x="967.1" y="677.08" width="6.7" height="6.84" fill="#8d7a5e"/>
<rect x="1161" y="598" width="7" height="20" fill="none" stroke="#cfd2d4" stroke-width="1" rx="1.8"/>
<rect x="1162.6" y="599.8" width="3.8" height="16.4" fill="#d0c9bd" rx="1"/>
<rect x="1162.6" y="604.4" width="3.8" height="7.2" fill="#8d7a5e"/>
<rect x="1168.6" y="598" width="7" height="20" fill="none" stroke="#cfd2d4" stroke-width="1" rx="1.8"/>
<rect x="1170.2" y="599.8" width="3.8" height="16.4" fill="#d0c9bd" rx="1"/>
<rect x="1170.2" y="604.4" width="3.8" height="7.2" fill="#8d7a5e"/>
<rect x="1142" y="641" width="16" height="8" fill="none" stroke="#cfd2d4" stroke-width="1" rx="1.8"/>
<rect x="1143.8" y="642.6" width="12.4" height="4.8" fill="#d0c9bd" rx="1"/>
<rect x="1147.12" y="642.6" width="5.76" height="4.8" fill="#8d7a5e"/>
<rect x="1244" y="584" width="5.6" height="12" fill="none" stroke="#cfd2d4" stroke-width="1" rx="1.8"/>
<rect x="1245.6" y="585.8" width="2.4" height="8.4" fill="#d0c9bd" rx="1"/>
<rect x="1245.6" y="587.84" width="2.4" height="4.32" fill="#8d7a5e"/>
<rect x="1251" y="584" width="5.6" height="12" fill="none" stroke="#cfd2d4" stroke-width="1" rx="1.8"/>
<rect x="1252.6" y="585.8" width="2.4" height="8.4" fill="#d0c9bd" rx="1"/>
<rect x="1252.6" y="587.84" width="2.4" height="4.32" fill="#8d7a5e"/>
<rect x="1258" y="584" width="5.6" height="12" fill="none" stroke="#cfd2d4" stroke-width="1" rx="1.8"/>
<rect x="1259.6" y="585.8" width="2.4" height="8.4" fill="#d0c9bd" rx="1"/>
<rect x="1259.6" y="587.84" width="2.4" height="4.32" fill="#8d7a5e"/>
<rect x="1263" y="587" width="6" height="20" fill="none" stroke="#cfd2d4" stroke-width="1" rx="1.8"/>
<rect x="1264.6" y="588.8" width="2.8" height="16.4" fill="#d0c9bd" rx="1"/>
<rect x="1264.6" y="593.4" width="2.8" height="7.2" fill="#8d7a5e"/>
<rect x="1440" y="251" width="19" height="17" fill="none" stroke="#cfd2d4" stroke-width="1" rx="1.8"/>
<rect x="1441.8" y="252.6" width="15.4" height="13.8" fill="#d0c9bd" rx="1"/>
<rect x="1446.08" y="252.6" width="6.84" height="13.8" fill="#8d7a5e"/>
<rect x="1444" y="254" width="11" height="7" fill="#b9a27c"/>
<rect x="1464" y="247" width="9" height="8" fill="none" stroke="#cfd2d4" stroke-width="1" rx="1.5"/>
<rect x="1474" y="247" width="9" height="8" fill="none" stroke="#cfd2d4" stroke-width="1" rx="1.5"/>
<rect x="1484" y="247" width="9" height="8" fill="none" stroke="#cfd2d4" stroke-width="1" rx="1.5"/>
<rect x="1494" y="247" width="9" height="8" fill="none" stroke="#cfd2d4" stroke-width="1" rx="1.5"/>
<rect x="1464" y="256" width="9" height="8" fill="none" stroke="#cfd2d4" stroke-width="1" rx="1.5"/>
<rect x="1474" y="256" width="9" height="8" fill="none" stroke="#cfd2d4" stroke-width="1" rx="1.5"/>
<rect x="1484" y="256" width="9" height="8" fill="none" stroke="#cfd2d4" stroke-width="1" rx="1.5"/>
<rect x="1494" y="256" width="9" height="8" fill="none" stroke="#cfd2d4" stroke-width="1" rx="1.5"/>
<rect x="1506" y="268" width="27" height="6.3" fill="none" stroke="#cfd2d4" stroke-width="1" rx="1.8"/>
<rect x="1507.8" y="269.6" width="23.4" height="3.1" fill="#d0c9bd" rx="1"/>
<rect x="1514.64" y="269.6" width="9.72" height="3.1" fill="#8d7a5e"/>
<rect x="1506" y="274.9" width="27" height="6.3" fill="none" stroke="#cfd2d4" stroke-width="1" rx="1.8"/>
<rect x="1507.8" y="276.5" width="23.4" height="3.1" fill="#d0c9bd" rx="1"/>
<rect x="1514.64" y="276.5" width="9.72" height="3.1" fill="#8d7a5e"/>
<rect x="1506" y="286" width="27" height="6.3" fill="none" stroke="#cfd2d4" stroke-width="1" rx="1.8"/>
<rect x="1507.8" y="287.6" width="23.4" height="3.1" fill="#d0c9bd" rx="1"/>
<rect x="1514.64" y="287.6" width="9.72" height="3.1" fill="#8d7a5e"/>
<rect x="1506" y="292.9" width="27" height="6.3" fill="none" stroke="#cfd2d4" stroke-width="1" rx="1.8"/>
<rect x="1507.8" y="294.5" width="23.4" height="3.1" fill="#d0c9bd" rx="1"/>
<rect x="1514.64" y="294.5" width="9.72" height="3.1" fill="#8d7a5e"/>
<rect x="1507" y="300.4" width="9" height="21" fill="none" stroke="#cfd2d4" stroke-width="1" rx="1.8"/>
<rect x="1508.6" y="302.2" width="5.8" height="17.4" fill="#d0c9bd" rx="1"/>
<rect x="1508.6" y="307.12" width="5.8" height="7.56" fill="#8d7a5e"/>
<rect x="1517.5" y="300.4" width="9" height="21" fill="none" stroke="#cfd2d4" stroke-width="1" rx="1.8"/>
<rect x="1519.1" y="302.2" width="5.8" height="17.4" fill="#d0c9bd" rx="1"/>
<rect x="1519.1" y="307.12" width="5.8" height="7.56" fill="#8d7a5e"/>
<circle cx="1511.5" cy="308" r="1.6" fill="#c9a453"/>
<circle cx="1511.5" cy="315" r="1.6" fill="#c9a453"/>
<circle cx="1521.5" cy="308" r="1.6" fill="#c9a453"/>
<circle cx="1521.5" cy="315" r="1.6" fill="#c9a453"/>
<rect x="1446" y="442.4" width="19.2" height="30" fill="none" stroke="#cfd2d4" stroke-width="1.1" rx="1.5"/>
<rect x="1452" y="445" width="6" height="16" fill="#1f2124"/>
<rect x="1449" y="463" width="13" height="6" fill="#a88d68" rx="1"/>
<rect x="1446" y="477.5" width="8" height="36" fill="none" stroke="#cfd2d4" stroke-width="1" rx="1.5"/>
<rect x="1458" y="477.5" width="7.2" height="36" fill="none" stroke="#cfd2d4" stroke-width="1" rx="1.5"/>
<text x="1449.4" y="653" font-family="Liberation Sans" font-weight="bold" font-size="8.5" fill="#d8dadc" text-anchor="start" transform="rotate(180 1456 649)">C25</text>
<rect x="1465" y="632.8" width="16.8" height="21" fill="none" stroke="#cfd2d4" stroke-width="1.1" rx="1.5"/>
<rect x="1467" y="635" width="5.5" height="16" fill="#b58a52" rx="1"/>
<rect x="1474" y="635" width="5.5" height="16" fill="#b58a52" rx="1"/>
<rect x="1449.4" y="632.8" width="14" height="8" fill="none" stroke="#cfd2d4" stroke-width="1" rx="1.8"/>
<rect x="1451.2" y="634.4" width="10.4" height="4.8" fill="#d0c9bd" rx="1"/>
<rect x="1453.88" y="634.4" width="5.04" height="4.8" fill="#8d7a5e"/>
<rect x="1492" y="649" width="8" height="8.5" fill="none" stroke="#cfd2d4" stroke-width="1" rx="1.5"/>
<rect x="1494" y="651" width="4" height="4.5" fill="#9a9690" rx="1"/>
<rect x="1501" y="649" width="8" height="8.5" fill="none" stroke="#cfd2d4" stroke-width="1" rx="1.5"/>
<rect x="1503" y="651" width="4" height="4.5" fill="#9a9690" rx="1"/>
<rect x="1510" y="649" width="8" height="8.5" fill="none" stroke="#cfd2d4" stroke-width="1" rx="1.5"/>
<rect x="1512" y="651" width="4" height="4.5" fill="#9a9690" rx="1"/>
<rect x="1520" y="649" width="8" height="8.5" fill="none" stroke="#cfd2d4" stroke-width="1" rx="1.5"/>
<rect x="1522" y="651" width="4" height="4.5" fill="#9a9690" rx="1"/>
<rect x="1492" y="659" width="8" height="8.5" fill="none" stroke="#cfd2d4" stroke-width="1" rx="1.5"/>
<rect x="1494" y="661" width="4" height="4.5" fill="#9a9690" rx="1"/>
<rect x="1501" y="659" width="8" height="8.5" fill="none" stroke="#cfd2d4" stroke-width="1" rx="1.5"/>
<rect x="1503" y="661" width="4" height="4.5" fill="#9a9690" rx="1"/>
<rect x="1510" y="659" width="8" height="8.5" fill="none" stroke="#cfd2d4" stroke-width="1" rx="1.5"/>
<rect x="1512" y="661" width="4" height="4.5" fill="#9a9690" rx="1"/>
<rect x="1520" y="659" width="8" height="8.5" fill="none" stroke="#cfd2d4" stroke-width="1" rx="1.5"/>
<rect x="1522" y="661" width="4" height="4.5" fill="#9a9690" rx="1"/>
<rect x="1492" y="669" width="8" height="8.5" fill="none" stroke="#cfd2d4" stroke-width="1" rx="1.5"/>
<rect x="1494" y="671" width="4" height="4.5" fill="#9a9690" rx="1"/>
<rect x="1501" y="669" width="8" height="8.5" fill="none" stroke="#cfd2d4" stroke-width="1" rx="1.5"/>
<rect x="1503" y="671" width="4" height="4.5" fill="#9a9690" rx="1"/>
<rect x="1492" y="678" width="8" height="8.5" fill="none" stroke="#cfd2d4" stroke-width="1" rx="1.5"/>
<rect x="1494" y="680" width="4" height="4.5" fill="#9a9690" rx="1"/>
<rect x="1481.3" y="420" width="14.5" height="6.5" fill="#c7c3bb" rx="2"/>
<rect x="1483" y="423.8" width="12" height="1.6" fill="#8c877f"/>
<rect x="1481.3" y="429.6" width="14.5" height="6.5" fill="#c7c3bb" rx="2"/>
<rect x="1483" y="433.4" width="12" height="1.6" fill="#8c877f"/>
<rect x="1481.3" y="439.2" width="14.5" height="6.5" fill="#c7c3bb" rx="2"/>
<rect x="1483" y="443" width="12" height="1.6" fill="#8c877f"/>
<rect x="1481.3" y="448.8" width="14.5" height="6.5" fill="#c7c3bb" rx="2"/>
<rect x="1483" y="452.6" width="12" height="1.6" fill="#8c877f"/>
<rect x="1481.3" y="458.4" width="14.5" height="6.5" fill="#c7c3bb" rx="2"/>
<rect x="1483" y="462.2" width="12" height="1.6" fill="#8c877f"/>
<rect x="1481.3" y="468" width="14.5" height="6.5" fill="#c7c3bb" rx="2"/>
<rect x="1483" y="471.8" width="12" height="1.6" fill="#8c877f"/>
<rect x="1481.3" y="477.6" width="14.5" height="6.5" fill="#c7c3bb" rx="2"/>
<rect x="1483" y="481.4" width="12" height="1.6" fill="#8c877f"/>
<rect x="1481.3" y="487.2" width="14.5" height="6.5" fill="#c7c3bb" rx="2"/>
<rect x="1483" y="491" width="12" height="1.6" fill="#8c877f"/>
<rect x="1481.3" y="496.8" width="14.5" height="6.5" fill="#c7c3bb" rx="2"/>
<rect x="1483" y="500.6" width="12" height="1.6" fill="#8c877f"/>
<rect x="1491" y="507" width="12.4" height="10.7" fill="#c7c5c0" rx="1"/>
<rect x="1573.7" y="508" width="19" height="9.7" fill="#b9b5ae" rx="1"/>
<rect x="1489.3" y="373" width="15" height="13" fill="#d2d1cd" rx="1"/>
<rect x="1579" y="370" width="18" height="8" fill="#c9c6c0" rx="1"/>
<polygon points="1496.4,374 1624,375 1624,408 1620,418 1619,507.7 1496.4,507.7" fill="url(#sdg)"/>
<path d="M1570,377 L1610,377 M1571,377 L1571,395 L1582,395 L1590,387 L1610,387" fill="none" stroke="#1a1a18" stroke-width="2"/>
<rect x="1509" y="498" width="36" height="7" fill="#5c5850" rx="1"/>
<line x1="1512" y1="501.5" x2="1540" y2="501.5" stroke="#bdb6aa" stroke-width="1.2"/>
<line x1="1497" y1="380" x2="1497" y2="505" stroke="#7d786f" stroke-width="1"/>
<rect x="1273" y="568.2" width="58" height="82.2" fill="none" stroke="#d6d9dc" stroke-width="1.4"/>
<rect x="1318" y="572" width="10" height="22" fill="#2d3034"/>
<rect x="1289" y="570" width="28.7" height="24.5" fill="#b6b6b3" rx="2"/>
<rect x="1291" y="572" width="24.7" height="6" fill="#d1d1cf" rx="1"/>
<rect x="1288" y="626.6" width="28.8" height="19.7" fill="#adadaa" rx="2"/>
<rect x="1291.8" y="594.5" width="35.7" height="32.1" fill="#e8dccb"/>
<rect x="1276" y="598" width="9" height="2" fill="#bfc2c4"/>
<rect x="1286" y="598" width="4" height="2" fill="#8c8f92"/>
<rect x="1276" y="602.3" width="9" height="2" fill="#bfc2c4"/>
<rect x="1286" y="602.3" width="4" height="2" fill="#8c8f92"/>
<rect x="1276" y="606.6" width="9" height="2" fill="#bfc2c4"/>
<rect x="1286" y="606.6" width="4" height="2" fill="#8c8f92"/>
<rect x="1276" y="610.9" width="9" height="2" fill="#bfc2c4"/>
<rect x="1286" y="610.9" width="4" height="2" fill="#8c8f92"/>
<rect x="1276" y="615.2" width="9" height="2" fill="#bfc2c4"/>
<rect x="1286" y="615.2" width="4" height="2" fill="#8c8f92"/>
<rect x="1276" y="619.5" width="9" height="2" fill="#bfc2c4"/>
<rect x="1286" y="619.5" width="4" height="2" fill="#8c8f92"/>
<text x="1306" y="675" font-family="Liberation Sans" font-weight="bold" font-size="8" fill="#cfd2d4" text-anchor="start" transform="rotate(90 1306 675)">CIC</text>
<rect x="151.35" y="638.4" width="10.5" height="115.3" fill="#000"/>
<circle cx="156.4" cy="638.4" r="11.6" fill="#000"/>
<rect x="153.65" y="638.4" width="5.9" height="113" fill="#fff"/>
<circle cx="156.4" cy="638.4" r="9.3" fill="#fff"/>
<circle cx="155.5" cy="786.4" r="22" fill="#fff" stroke="#000" stroke-width="2.75"/>
<path d="M154,771 L161,771 L161,801.7 L154,801.7 L154,777.14 L147,780.7 L147,775.39 Z" fill="#000"/>
<rect x="259.3" y="689.7" width="10.6" height="114.9" fill="#000"/>
<circle cx="264.5" cy="689.7" r="11.8" fill="#000"/>
<rect x="261.6" y="689.7" width="6" height="112.6" fill="#fff"/>
<circle cx="264.5" cy="689.7" r="9.5" fill="#fff"/>
<circle cx="264.6" cy="835.5" r="22" fill="#fff" stroke="#000" stroke-width="2.75"/>
<text x="252.07" y="850.7" font-family="Liberation Sans" font-weight="bold" font-size="43.57" fill="#000" text-anchor="start">2</text>
<rect x="333.4" y="701.8" width="10.4" height="116" fill="#000"/>
<circle cx="339.6" cy="701.8" r="11.8" fill="#000"/>
<rect x="335.7" y="701.8" width="5.8" height="113.7" fill="#fff"/>
<circle cx="339.6" cy="701.8" r="9.5" fill="#fff"/>
<circle cx="338.5" cy="846.4" r="22" fill="#fff" stroke="#000" stroke-width="2.75"/>
<text x="328.41" y="861.36" font-family="Liberation Sans" font-weight="bold" font-size="43.57" fill="#000" text-anchor="start">3</text>
<rect x="427.2" y="682.6" width="10.8" height="115.1" fill="#000"/>
<circle cx="433" cy="682.6" r="11.8" fill="#000"/>
<rect x="429.5" y="682.6" width="6.2" height="112.8" fill="#fff"/>
<circle cx="433" cy="682.6" r="9.5" fill="#fff"/>
<circle cx="431.5" cy="827.4" r="22" fill="#fff" stroke="#000" stroke-width="2.75"/>
<text x="418.15" y="841.6" font-family="Liberation Sans" font-weight="bold" font-size="43.36" fill="#000" text-anchor="start">4</text>
<rect x="128.9" y="93.8" width="10.8" height="114.4" fill="#000"/>
<circle cx="134.4" cy="208.2" r="12" fill="#000"/>
<rect x="131.2" y="96.1" width="6.2" height="112.1" fill="#fff"/>
<circle cx="134.4" cy="208.2" r="9.7" fill="#fff"/>
<circle cx="133.4" cy="62.2" r="22" fill="#fff" stroke="#000" stroke-width="2.75"/>
<text x="121.46" y="76.46" font-family="Liberation Sans" font-weight="bold" font-size="44" fill="#000" text-anchor="start">6</text>
<rect x="419" y="105" width="10.8" height="114" fill="#000"/>
<circle cx="424" cy="219" r="11.6" fill="#000"/>
<rect x="421.3" y="107.3" width="6.2" height="111.7" fill="#fff"/>
<circle cx="424" cy="219" r="9.3" fill="#fff"/>
<circle cx="423.5" cy="71.5" r="22" fill="#fff" stroke="#000" stroke-width="2.75"/>
<text x="412.48" y="87.8" font-family="Liberation Sans" font-weight="bold" font-size="42.71" fill="#000" text-anchor="start">7</text>
<rect x="546.85" y="112.1" width="10.9" height="114.9" fill="#000"/>
<circle cx="551.5" cy="227" r="12" fill="#000"/>
<rect x="549.15" y="114.4" width="6.3" height="112.6" fill="#fff"/>
<circle cx="551.5" cy="227" r="9.7" fill="#fff"/>
<circle cx="551.5" cy="81.4" r="22" fill="#fff" stroke="#000" stroke-width="2.75"/>
<text x="540.37" y="96.66" font-family="Liberation Sans" font-weight="bold" font-size="44.43" fill="#000" text-anchor="start">8</text>
<rect x="707.1" y="95" width="11" height="114.7" fill="#000"/>
<circle cx="711.5" cy="209.7" r="12.2" fill="#000"/>
<rect x="709.4" y="97.3" width="6.4" height="112.4" fill="#fff"/>
<circle cx="711.5" cy="209.7" r="9.9" fill="#fff"/>
<circle cx="712.4" cy="62.3" r="22" fill="#fff" stroke="#000" stroke-width="2.75"/>
<text x="701.75" y="77.56" font-family="Liberation Sans" font-weight="bold" font-size="44.29" fill="#000" text-anchor="start">9</text>
<rect x="941.15" y="198" width="10.7" height="182" fill="#000"/>
<circle cx="946" cy="380" r="11.6" fill="#000"/>
<rect x="943.45" y="200.3" width="6.1" height="179.7" fill="#fff"/>
<circle cx="946" cy="380" r="9.3" fill="#fff"/>
<circle cx="946.5" cy="167.3" r="22" fill="#fff" stroke="#000" stroke-width="2.75"/>
<path d="M935.29,155.8 L940.29,155.8 L940.29,177.7 L935.29,177.7 L935.29,160.18 L930.3,162.72 L930.3,158.93 Z" fill="#000"/>
<text x="946.89" y="177.39" font-family="Liberation Sans" font-weight="bold" font-size="31.29" fill="#000" text-anchor="start">0</text>
<rect x="1089.2" y="190.1" width="10.4" height="182.2" fill="#000"/>
<circle cx="1093.3" cy="372.3" r="11.3" fill="#000"/>
<rect x="1091.5" y="192.4" width="5.8" height="179.9" fill="#fff"/>
<circle cx="1093.3" cy="372.3" r="9" fill="#fff"/>
<circle cx="1094.5" cy="160.3" r="22" fill="#fff" stroke="#000" stroke-width="2.75"/>
<path d="M1084.39,150.6 L1089.39,150.6 L1089.39,172.5 L1084.39,172.5 L1084.39,154.98 L1079.4,157.52 L1079.4,153.73 Z" fill="#000"/>
<path d="M1102.21,150.6 L1107.2,150.6 L1107.2,172.5 L1102.21,172.5 L1102.21,154.98 L1097.21,157.52 L1097.21,153.73 Z" fill="#000"/>
<rect x="1190" y="168.4" width="11" height="181.1" fill="#000"/>
<circle cx="1195.3" cy="349.5" r="11.9" fill="#000"/>
<rect x="1192.3" y="170.7" width="6.4" height="178.8" fill="#fff"/>
<circle cx="1195.3" cy="349.5" r="9.6" fill="#fff"/>
<circle cx="1194.5" cy="139.4" r="22" fill="#fff" stroke="#000" stroke-width="2.75"/>
<path d="M1183.29,128.8 L1188.29,128.8 L1188.29,150.7 L1183.29,150.7 L1183.29,133.18 L1178.3,135.72 L1178.3,131.93 Z" fill="#000"/>
<text x="1193.79" y="150.7" font-family="Liberation Sans" font-weight="bold" font-size="31.29" fill="#000" text-anchor="start">2</text>
<rect x="1469.05" y="95" width="10.9" height="182" fill="#000"/>
<circle cx="1474.4" cy="277" r="12" fill="#000"/>
<rect x="1471.35" y="97.3" width="6.3" height="179.7" fill="#fff"/>
<circle cx="1474.4" cy="277" r="9.7" fill="#fff"/>
<circle cx="1474.5" cy="63.4" r="22" fill="#fff" stroke="#000" stroke-width="2.75"/>
<path d="M1463.68,53.7 L1468.77,53.7 L1468.77,76 L1463.68,76 L1463.68,58.16 L1458.6,60.75 L1458.6,56.89 Z" fill="#000"/>
<text x="1473.68" y="75.68" font-family="Liberation Sans" font-weight="bold" font-size="31.86" fill="#000" text-anchor="start">3</text>
<rect x="1298.2" y="650.3" width="10.8" height="114" fill="#000"/>
<circle cx="1303.9" cy="650.3" r="11.7" fill="#000"/>
<rect x="1300.5" y="650.3" width="6.2" height="111.7" fill="#fff"/>
<circle cx="1303.9" cy="650.3" r="9.4" fill="#fff"/>
<circle cx="1303.6" cy="795.5" r="22" fill="#fff" stroke="#000" stroke-width="2.75"/>
<path d="M1291.92,783.7 L1296.93,783.7 L1296.93,805.7 L1291.92,805.7 L1291.92,788.1 L1286.9,790.65 L1286.9,786.85 Z" fill="#000"/>
<text x="1303.31" y="805.7" font-family="Liberation Sans" font-weight="bold" font-size="31.43" fill="#000" text-anchor="start">4</text>
<rect x="1556.4" y="500.4" width="12.4" height="227.2" fill="#000"/>
<circle cx="1564.5" cy="500.4" r="15" fill="#000"/>
<rect x="1558.5" y="500.4" width="8.2" height="225.1" fill="#fff"/>
<circle cx="1564.5" cy="500.4" r="12.9" fill="#fff"/>
<circle cx="1563.4" cy="758.5" r="22" fill="#fff" stroke="#000" stroke-width="2.75"/>
<path d="M1551.58,748.6 L1556.46,748.6 L1556.46,770 L1551.58,770 L1551.58,752.88 L1546.7,755.36 L1546.7,751.66 Z" fill="#000"/>
<text x="1563.2" y="769.69" font-family="Liberation Sans" font-weight="bold" font-size="30.57" fill="#000" text-anchor="start">5</text>
<rect x="976.2" y="647.2" width="10.6" height="114.5" fill="#000"/>
<circle cx="981.7" cy="647.2" r="11.6" fill="#000"/>
<rect x="978.5" y="647.2" width="6" height="112.2" fill="#fff"/>
<circle cx="981.7" cy="647.2" r="9.3" fill="#fff"/>
<circle cx="980.4" cy="795.5" r="22" fill="#fff" stroke="#000" stroke-width="2.75"/>
<path d="M969.27,783.9 L974.24,783.9 L974.24,805.7 L969.27,805.7 L969.27,788.26 L964.3,790.79 L964.3,787.02 Z" fill="#000"/>
<text x="980.51" y="805.39" font-family="Liberation Sans" font-weight="bold" font-size="31.14" fill="#000" text-anchor="start">6</text>
<rect x="1076.15" y="526.6" width="12.5" height="228.1" fill="#000"/>
<circle cx="1082.5" cy="526.6" r="14.2" fill="#000"/>
<rect x="1078.25" y="526.6" width="8.3" height="226" fill="#fff"/>
<circle cx="1082.5" cy="526.6" r="12.1" fill="#fff"/>
<circle cx="1082.5" cy="786.5" r="22" fill="#fff" stroke="#000" stroke-width="2.75"/>
<path d="M1070.89,775 L1075.89,775 L1075.89,796.9 L1070.89,796.9 L1070.89,779.38 L1065.9,781.92 L1065.9,778.13 Z" fill="#000"/>
<text x="1082.34" y="796.9" font-family="Liberation Sans" font-weight="bold" font-size="31.29" fill="#000" text-anchor="start">7</text>
<rect x="631.15" y="649.3" width="10.7" height="115.3" fill="#000"/>
<circle cx="636.1" cy="649.3" r="11.8" fill="#000"/>
<rect x="633.45" y="649.3" width="6.1" height="113" fill="#fff"/>
<circle cx="636.1" cy="649.3" r="9.5" fill="#fff"/>
<circle cx="636.4" cy="795.4" r="22" fill="#fff" stroke="#000" stroke-width="2.75"/>
<path d="M625.62,783.5 L630.63,783.5 L630.63,805.5 L625.62,805.5 L625.62,787.9 L620.6,790.45 L620.6,786.65 Z" fill="#000"/>
<text x="635.75" y="805.19" font-family="Liberation Sans" font-weight="bold" font-size="31.43" fill="#000" text-anchor="start">8</text>
<rect x="267.95" y="99" width="10.9" height="113.7" fill="#000"/>
<circle cx="272.3" cy="212.7" r="11.8" fill="#000"/>
<rect x="270.25" y="101.3" width="6.3" height="111.4" fill="#fff"/>
<circle cx="272.3" cy="212.7" r="9.5" fill="#fff"/>
<circle cx="272.5" cy="71.3" r="22" fill="#fff" stroke="#000" stroke-width="2.75"/>
<path d="M260.09,59.9 L265.59,59.9 L265.59,84 L260.09,84 L260.09,64.72 L254.6,67.52 L254.6,63.35 Z" fill="#000"/>
<text x="271.5" y="83.66" font-family="Liberation Sans" font-weight="bold" font-size="34.43" fill="#000" text-anchor="start">9</text>
<rect x="226.25" y="623.4" width="10.7" height="118" fill="#000"/>
<circle cx="231.8" cy="623.4" r="11.6" fill="#000"/>
<rect x="228.55" y="623.4" width="6.1" height="115.7" fill="#fff"/>
<circle cx="231.8" cy="623.4" r="9.3" fill="#fff"/>
<circle cx="229.6" cy="770.3" r="22" fill="#fff" stroke="#000" stroke-width="2.75"/>
<text x="213.98" y="781.1" font-family="Liberation Sans" font-weight="bold" font-size="29" fill="#000" text-anchor="start">2</text>
<text x="231.31" y="780.81" font-family="Liberation Sans" font-weight="bold" font-size="29" fill="#000" text-anchor="start">0</text>
<rect x="56" y="441.9" width="164.9" height="10.6" fill="#000"/>
<circle cx="220.9" cy="448" r="11.8" fill="#000"/>
<rect x="58.3" y="444.2" width="162.6" height="6" fill="#fff"/>
<circle cx="220.9" cy="448" r="9.5" fill="#fff"/>
<circle cx="29.5" cy="447.3" r="22" fill="#fff" stroke="#000" stroke-width="2.75"/>
<text x="19.53" y="462.18" font-family="Liberation Sans" font-weight="bold" font-size="42.29" fill="#000" text-anchor="start">5</text>
</svg>
</body></html>
